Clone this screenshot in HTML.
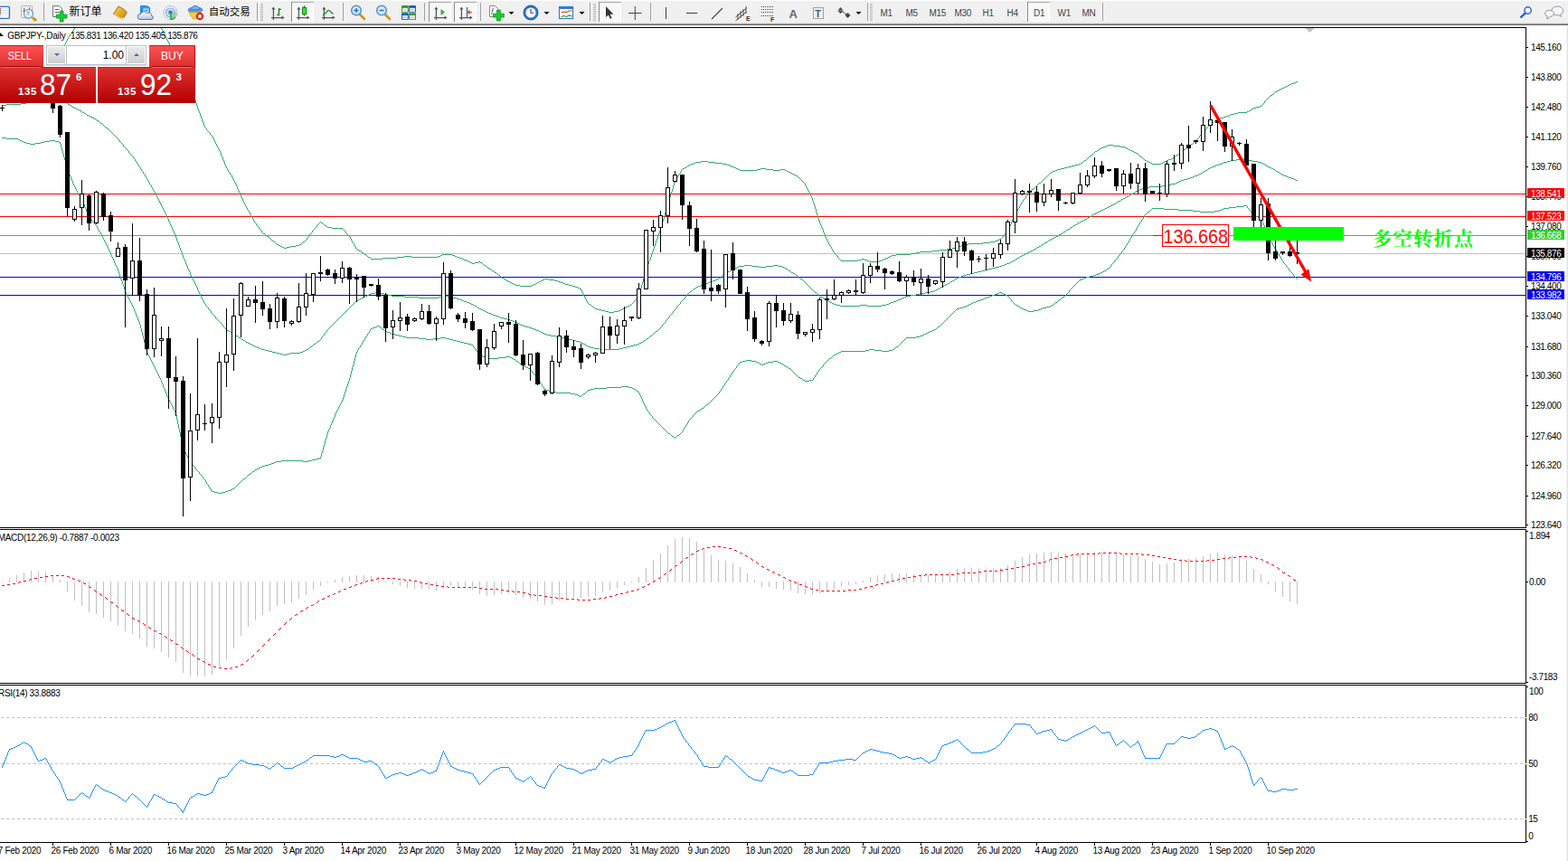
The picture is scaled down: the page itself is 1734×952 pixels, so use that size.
<!DOCTYPE html><html><head><meta charset="utf-8"><title>GBPJPY Daily</title><style>
html,body{margin:0;padding:0;background:#fff;}
body{width:1734px;height:952px;overflow:hidden;position:relative;font-family:"Liberation Sans",sans-serif;}
.tp{position:absolute;left:0;top:50px;width:216px;height:64px;background:#fff;}
.btn{position:absolute;top:0;height:24px;box-sizing:border-box;border-top:1px solid #c81a1a;border-right:1px solid #b80f0f;background:linear-gradient(#fa5252,#de2e2e);color:#fff;font-size:13px;text-align:center;line-height:21px;}
.btn span{display:inline-block;transform:scaleX(0.93);}
.sell span{transform:scaleX(0.82);position:relative;left:-2.2px}
.btn i{position:absolute;left:1px;right:3px;bottom:-1px;height:1px;background:#9c0808;border-bottom:1px solid #ee6a6a;z-index:3}
.sell{left:0;width:48.5px;}
.buy{left:165px;width:51px;}
.buy i{left:3px;right:3px}
.mid{position:absolute;left:48px;top:0;width:117px;height:24px;background:#fff;}
.spin{position:absolute;left:3px;top:0px;width:109px;height:20px;border:1px solid #b9bec6;background:#fff;box-shadow:0 1px 0 #d8d8d8}
.sb{position:absolute;top:1px;width:19px;height:18px;background:linear-gradient(#e9e9e9,#cfcfcf);}
.sb.l{left:1px}.sb.r{right:1px}
.dn{position:absolute;left:7px;top:7px;border-left:3px solid transparent;border-right:3px solid transparent;border-top:3px solid #4a63c8}
.upa{position:absolute;left:7px;top:7px;border-left:3px solid transparent;border-right:3px solid transparent;border-bottom:3px solid #4a63c8}
.vol{position:absolute;left:21px;right:21px;top:0;height:20px;line-height:20px;text-align:right;padding-right:2px;font-size:12px;color:#000;border-left:1px solid #b9bec6;border-right:1px solid #b9bec6;background:#fff}
.pr{position:absolute;top:24px;height:40px;box-sizing:border-box;border-top:1px solid #c81a1a;background:linear-gradient(#de3030,#b20000);color:#fff;}
.pl{left:0;width:106px}.prr{left:108px;width:108px}
.pr span{position:absolute;line-height:1}
.s1{font-size:11.5px;font-weight:bold;top:21.3px;letter-spacing:0.55px}
.big{font-size:33px;top:1.7px;transform:scaleX(0.955);transform-origin:0 0}
.sup{font-size:11.5px;font-weight:bold;top:4.6px}
.pl .s1{left:20px}.pl .big{left:44px}.pl .sup{left:84px}
.prr .s1{left:22px}.prr .big{left:46.5px}.prr .sup{left:86.5px}
</style></head><body><svg width="1734" height="952" viewBox="0 0 1734 952" style="position:absolute;left:0;top:0" shape-rendering="crispEdges"><rect x="0" y="28" width="1734" height="924" fill="#fff"/><rect x="0" y="30" width="1688" height="1" fill="#000"/><rect x="1687" y="30" width="1" height="554" fill="#000"/><rect x="1687" y="585" width="1" height="171" fill="#000"/><rect x="1687" y="757" width="1" height="175" fill="#000"/><rect x="0" y="583" width="1688" height="1" fill="#000"/><rect x="0" y="585" width="1688" height="1" fill="#000"/><rect x="0" y="755" width="1688" height="1" fill="#000"/><rect x="0" y="757" width="1688" height="1" fill="#000"/><rect x="0" y="931" width="1688" height="1" fill="#000"/><defs><clipPath id="cm"><rect x="0" y="31" width="1687" height="552"/></clipPath></defs><g clip-path="url(#cm)"><rect x="0" y="214" width="1687" height="1" fill="#ff0000"/><rect x="0" y="239" width="1687" height="1" fill="#ff0000"/><rect x="0" y="260" width="1687" height="1" fill="#32cd32"/><rect x="0" y="280" width="1687" height="1" fill="#c0c0c0"/><rect x="0" y="306" width="1687" height="1" fill="#0000ff"/><rect x="0" y="326" width="1687" height="1" fill="#0000ff"/><path d="M708,319v3h1v-3zM256,194v2h1v-2zM257,196v2h1v-2zM224,134v2h1v-2zM267,218v2h1v-2zM713,301v4h1v-4zM264,211v2h1v-2zM213,102v3h1v-3zM242,165v2h1v-2zM216,111v3h1v-3zM188,50v3h1v-3zM248,179v3h1v-3zM737,228v4h1v-4zM897,217v2h1v-2zM249,182v2h1v-2zM194,65v2h1v-2zM901,228v3h1v-3zM725,266v3h1v-3zM712,305v3h1v-3zM711,308v4h1v-4zM184,42v2h1v-2zM1128,226v2h1v-2zM382,256v2h1v-2zM719,284v3h1v-3zM1116,250v2h1v-2zM921,277v2h1v-2zM258,198v2h1v-2zM205,79v3h1v-3zM716,292v3h1v-3zM208,87v3h1v-3zM265,213v2h1v-2zM209,90v3h1v-3zM266,215v3h1v-3zM731,248v4h1v-4zM240,161v2h1v-2zM212,99v3h1v-3zM243,167v2h1v-2zM740,218v4h1v-4zM710,312v3h1v-3zM646,327v2h1v-2zM748,196v2h1v-2zM273,230v2h1v-2zM895,213v2h1v-2zM250,184v2h1v-2zM1127,228v2h1v-2zM896,215v2h1v-2zM728,258v3h1v-3zM193,63v2h1v-2zM1110,259v2h1v-2zM902,231v4h1v-4zM1123,235v2h1v-2zM232,147v2h1v-2zM722,275v3h1v-3zM236,153v2h1v-2zM739,222v3h1v-3zM182,38v2h1v-2zM388,264v2h1v-2zM283,247v2h1v-2zM218,117v3h1v-3zM727,261v3h1v-3zM203,73v3h1v-3zM726,264v2h1v-2zM339,263v2h1v-2zM204,76v3h1v-3zM734,238v4h1v-4zM1122,237v2h1v-2zM207,84v3h1v-3zM906,244v3h1v-3zM644,323v2h1v-2zM275,233v2h1v-2zM912,259v3h1v-3zM66,59v2h1v-2zM79,35v2h1v-2zM718,287v2h1v-2zM260,202v2h1v-2zM742,212v3h1v-3zM235,151v2h1v-2zM181,36v2h1v-2zM890,203v2h1v-2zM387,262v2h1v-2zM191,58v2h1v-2zM926,283v2h1v-2zM202,71v2h1v-2zM223,131v3h1v-3zM724,269v3h1v-3zM74,43v2h1v-2zM753,188v2h1v-2zM643,321v2h1v-2zM1115,252v2h1v-2zM745,202v3h1v-3zM736,232v3h1v-3zM715,295v3h1v-3zM259,200v2h1v-2zM262,206v3h1v-3zM73,45v2h1v-2zM269,222v2h1v-2zM69,53v2h1v-2zM244,169v3h1v-3zM189,53v2h1v-2zM286,251v2h1v-2zM190,55v3h1v-3zM251,186v2h1v-2zM899,222v3h1v-3zM1326,150v2h1v-2zM707,322v4h1v-4zM1119,243v2h1v-2zM920,275v2h1v-2zM210,93v3h1v-3zM1118,245v3h1v-3zM738,225v3h1v-3zM898,219v3h1v-3zM289,255v2h1v-2zM1137,213v2h1v-2zM220,123v2h1v-2zM904,238v3h1v-3zM741,215v3h1v-3zM907,247v2h1v-2zM1398,112v2h1v-2zM914,264v2h1v-2zM237,155v2h1v-2zM183,40v2h1v-2zM215,108v3h1v-3zM892,207v2h1v-2zM389,266v2h1v-2zM225,136v3h1v-3zM744,205v4h1v-4zM702,331v2h1v-2zM645,325v2h1v-2zM648,331v2h1v-2zM276,235v2h1v-2zM913,262v2h1v-2zM279,240v2h1v-2zM743,209v3h1v-3zM730,252v3h1v-3zM891,205v2h1v-2zM214,105v3h1v-3zM246,174v3h1v-3zM192,60v3h1v-3zM391,269v2h1v-2zM717,289v3h1v-3zM1114,254v2h1v-2zM647,329v2h1v-2zM721,278v3h1v-3zM277,237v2h1v-2zM733,242v3h1v-3zM179,32v2h1v-2zM68,55v2h1v-2zM706,326v2h1v-2zM261,204v2h1v-2zM268,220v2h1v-2zM752,190v2h1v-2zM909,252v2h1v-2zM1131,221v2h1v-2zM916,268v2h1v-2zM735,235v3h1v-3zM1117,248v2h1v-2zM185,44v2h1v-2zM217,114v3h1v-3zM709,315v4h1v-4zM747,198v2h1v-2zM908,249v3h1v-3zM915,266v2h1v-2zM1124,233v2h1v-2zM187,48v2h1v-2zM720,281v3h1v-3zM893,209v2h1v-2zM393,273v2h1v-2zM219,120v3h1v-3zM903,235v3h1v-3zM649,333v2h1v-2zM723,272v3h1v-3zM239,159v2h1v-2zM211,96v3h1v-3zM392,271v2h1v-2zM75,41v2h1v-2zM714,298v3h1v-3zM71,49v2h1v-2zM750,193v2h1v-2zM729,255v3h1v-3zM1129,224v2h1v-2zM281,244v2h1v-2zM342,259v2h1v-2zM746,200v2h1v-2zM1125,231v2h1v-2zM263,209v2h1v-2zM206,82v2h1v-2zM1121,239v2h1v-2zM238,157v2h1v-2zM70,51v2h1v-2zM270,224v2h1v-2zM911,257v2h1v-2zM345,255v2h1v-2zM245,172v2h1v-2zM900,225v3h1v-3zM252,188v2h1v-2zM732,245v3h1v-3zM1120,241v2h1v-2zM180,34v2h1v-2zM280,242v2h1v-2zM81,32v2h1v-2zM77,38v2h1v-2zM222,128v3h1v-3zM226,139v2h1v-2zM642,319v2h1v-2zM272,228v2h1v-2zM910,254v3h1v-3zM917,270v2h1v-2zM254,191v2h1v-2zM1134,217v2h1v-2zM72,47v2h1v-2zM186,46v2h1v-2zM221,125v3h1v-3zM228,142v2h1v-2zM905,241v3h1v-3zM67,57v2h1v-2zM919,273v2h1v-2zM241,163v2h1v-2zM894,211v2h1v-2zM247,177v2h1v-2zM1334,141v2h1v-2zM350,249v2h1v-2zM271,226v2h1v-2zM409,285h1v1h-1zM423,285h16v1h-16zM508,285h3v1h-3zM927,285h1v1h-1zM980,285h2v1h-2zM818,188h19v1h-19zM855,188h8v1h-8zM868,188h2v1h-2zM1167,188h2v1h-2zM516,288h2v1h-2zM930,288h19v1h-19zM959,288h2v1h-2zM972,288h3v1h-3zM1333,143h1v1h-1zM1356,128h3v1h-3zM764,181h3v1h-3zM799,181h5v1h-5zM1193,181h2v1h-2zM1274,181h10v1h-10zM407,284h2v1h-2zM439,284h8v1h-8zM455,284h29v1h-29zM505,284h3v1h-3zM982,284h2v1h-2zM300,265h1v1h-1zM338,265h1v1h-1zM1103,265h2v1h-2zM406,283h1v1h-1zM447,283h8v1h-8zM484,283h3v1h-3zM503,283h2v1h-2zM984,283h2v1h-2zM348,252h1v1h-1zM367,252h12v1h-12zM402,280h1v1h-1zM923,280h1v1h-1zM1007,280h6v1h-6zM559,309h1v1h-1zM600,309h2v1h-2zM607,309h6v1h-6zM1405,105h2v1h-2zM1211,167h2v1h-2zM1252,167h2v1h-2zM1306,167h1v1h-1zM538,295h1v1h-1zM557,308h2v1h-2zM602,308h5v1h-5zM49,61h14v1h-14zM1215,165h1v1h-1zM1248,165h2v1h-2zM1309,165h2v1h-2zM1383,121h1v1h-1zM1207,171h1v1h-1zM1259,171h1v1h-1zM1301,171h2v1h-2zM1205,172h2v1h-2zM1260,172h1v1h-1zM1300,172h1v1h-1zM564,312h2v1h-2zM594,312h2v1h-2zM620,312h3v1h-3zM9,77h10v1h-10zM1369,124h10v1h-10zM700,334h1v1h-1zM570,315h5v1h-5zM588,315h2v1h-2zM629,315h4v1h-4zM575,316h13v1h-13zM633,316h3v1h-3zM314,274h3v1h-3zM1053,274h4v1h-4zM653,337h1v1h-1zM696,337h2v1h-2zM405,282h1v1h-1zM487,282h2v1h-2zM500,282h3v1h-3zM925,282h1v1h-1zM986,282h5v1h-5zM1359,127h2v1h-2zM31,67h2v1h-2zM195,67h2v1h-2zM304,268h1v1h-1zM334,268h1v1h-1zM390,268h1v1h-1zM1087,268h8v1h-8zM288,254h1v1h-1zM346,254h1v1h-1zM380,254h1v1h-1zM1414,99h2v1h-2zM769,179h6v1h-6zM783,179h8v1h-8zM1197,179h1v1h-1zM1270,179h2v1h-2zM1286,179h2v1h-2zM1216,164h2v1h-2zM1246,164h2v1h-2zM1311,164h1v1h-1zM1433,90h2v1h-2zM551,304h2v1h-2zM1346,131h3v1h-3zM534,292h1v1h-1zM553,305h1v1h-1zM1210,168h1v1h-1zM1254,168h2v1h-2zM1305,168h1v1h-1zM1209,169h1v1h-1zM1256,169h2v1h-2zM1304,169h1v1h-1zM231,146h1v1h-1zM1330,146h1v1h-1zM754,187h1v1h-1zM816,187h2v1h-2zM837,187h4v1h-4zM847,187h8v1h-8zM863,187h5v1h-5zM1169,187h4v1h-4zM759,184h1v1h-1zM809,184h3v1h-3zM1181,184h4v1h-4zM885,198h1v1h-1zM1154,198h1v1h-1zM399,278h1v1h-1zM1017,278h14v1h-14zM1202,175h1v1h-1zM1264,175h1v1h-1zM1295,175h2v1h-2zM775,178h8v1h-8zM1198,178h1v1h-1zM1268,178h2v1h-2zM1288,178h2v1h-2zM547,301h2v1h-2zM520,290h2v1h-2zM525,290h4v1h-4zM531,290h2v1h-2zM767,180h2v1h-2zM791,180h8v1h-8zM1195,180h2v1h-2zM1272,180h2v1h-2zM1284,180h2v1h-2zM1401,109h1v1h-1zM1320,157h1v1h-1zM37,64h4v1h-4zM310,272h2v1h-2zM321,272h6v1h-6zM918,272h1v1h-1zM1060,272h3v1h-3zM1146,205h1v1h-1zM749,195h1v1h-1zM882,195h1v1h-1zM1157,195h1v1h-1zM1223,161h2v1h-2zM1231,161h8v1h-8zM1315,161h1v1h-1zM874,191h2v1h-2zM1161,191h1v1h-1zM410,286h13v1h-13zM511,286h2v1h-2zM928,286h1v1h-1zM953,286h3v1h-3zM977,286h3v1h-3zM1143,208h1v1h-1zM562,311h2v1h-2zM596,311h2v1h-2zM617,311h3v1h-3zM661,342h4v1h-4zM686,342h2v1h-2zM760,183h2v1h-2zM807,183h2v1h-2zM1185,183h4v1h-4zM305,269h1v1h-1zM333,269h1v1h-1zM1071,269h16v1h-16zM255,193h1v1h-1zM878,193h2v1h-2zM1159,193h1v1h-1zM306,270h2v1h-2zM331,270h2v1h-2zM1065,270h6v1h-6zM1399,111h1v1h-1zM1204,173h1v1h-1zM1261,173h2v1h-2zM1299,173h1v1h-1zM1426,93h2v1h-2zM403,281h2v1h-2zM489,281h11v1h-11zM924,281h1v1h-1zM991,281h16v1h-16zM673,345h6v1h-6zM233,149h1v1h-1zM1327,149h1v1h-1zM1208,170h1v1h-1zM1258,170h1v1h-1zM1303,170h1v1h-1zM1422,95h2v1h-2zM312,273h2v1h-2zM317,273h4v1h-4zM1057,273h3v1h-3zM751,192h1v1h-1zM876,192h2v1h-2zM1160,192h1v1h-1zM888,201h1v1h-1zM1151,201h1v1h-1zM291,258h2v1h-2zM343,258h1v1h-1zM383,258h1v1h-1zM1111,258h1v1h-1zM63,60h3v1h-3zM762,182h2v1h-2zM804,182h3v1h-3zM1189,182h4v1h-4zM27,70h2v1h-2zM200,70h2v1h-2zM394,275h1v1h-1zM1047,275h6v1h-6zM395,276h2v1h-2zM1039,276h8v1h-8zM1379,123h2v1h-2zM655,339h2v1h-2zM692,339h2v1h-2zM870,189h2v1h-2zM1164,189h3v1h-3zM1213,166h2v1h-2zM1250,166h2v1h-2zM1307,166h2v1h-2zM704,329h1v1h-1zM1199,177h2v1h-2zM1266,177h2v1h-2zM1290,177h2v1h-2zM299,264h1v1h-1zM1105,264h2v1h-2zM1138,212h1v1h-1zM513,287h3v1h-3zM929,287h1v1h-1zM949,287h4v1h-4zM956,287h3v1h-3zM975,287h2v1h-2zM301,266h2v1h-2zM337,266h1v1h-1zM1100,266h3v1h-3zM757,185h2v1h-2zM812,185h2v1h-2zM1177,185h4v1h-4zM1416,98h2v1h-2zM295,261h2v1h-2zM341,261h1v1h-1zM386,261h1v1h-1zM1109,261h1v1h-1zM568,314h2v1h-2zM590,314h2v1h-2zM625,314h4v1h-4zM1412,100h2v1h-2zM755,186h2v1h-2zM814,186h2v1h-2zM841,186h6v1h-6zM1173,186h4v1h-4zM1389,118h4v1h-4zM78,37h1v1h-1zM285,250h1v1h-1zM361,250h1v1h-1zM1431,91h2v1h-2zM541,297h2v1h-2zM669,344h4v1h-4zM679,344h5v1h-5zM1203,174h1v1h-1zM1263,174h1v1h-1zM1297,174h2v1h-2zM1201,176h1v1h-1zM1265,176h1v1h-1zM1292,176h3v1h-3zM1393,117h2v1h-2zM1225,160h6v1h-6zM1316,160h1v1h-1zM30,68h1v1h-1zM197,68h2v1h-2zM555,307h2v1h-2zM397,277h2v1h-2zM1031,277h8v1h-8zM1400,110h1v1h-1zM1319,158h1v1h-1zM518,289h2v1h-2zM529,289h2v1h-2zM961,289h11v1h-11zM1339,136h2v1h-2zM5,78h4v1h-4zM290,257h1v1h-1zM344,257h1v1h-1zM1112,257h1v1h-1zM287,253h1v1h-1zM347,253h1v1h-1zM379,253h1v1h-1zM230,145h1v1h-1zM1331,145h1v1h-1zM880,194h2v1h-2zM1158,194h1v1h-1zM1404,106h1v1h-1zM566,313h2v1h-2zM592,313h2v1h-2zM623,313h2v1h-2zM1365,125h4v1h-4zM665,343h4v1h-4zM684,343h2v1h-2zM884,197h1v1h-1zM1155,197h1v1h-1zM29,69h1v1h-1zM199,69h1v1h-1zM1345,132h1v1h-1zM253,190h1v1h-1zM872,190h2v1h-2zM1162,190h2v1h-2zM1386,119h3v1h-3zM522,291h3v1h-3zM533,291h1v1h-1zM1220,162h3v1h-3zM1239,162h5v1h-5zM1314,162h1v1h-1zM636,317h3v1h-3zM886,199h1v1h-1zM1153,199h1v1h-1zM34,65h3v1h-3zM887,200h1v1h-1zM1152,200h1v1h-1zM1218,163h2v1h-2zM1244,163h2v1h-2zM1312,163h2v1h-2zM1144,207h1v1h-1zM658,341h3v1h-3zM688,341h2v1h-2zM400,279h2v1h-2zM922,279h1v1h-1zM1013,279h4v1h-4zM284,249h1v1h-1zM359,249h2v1h-2zM1381,122h2v1h-2zM22,74h1v1h-1zM1338,137h1v1h-1zM1335,140h1v1h-1zM282,246h1v1h-1zM353,246h1v1h-1zM355,246h2v1h-2zM303,267h1v1h-1zM335,267h2v1h-2zM1095,267h5v1h-5zM1428,92h3v1h-3zM1133,219h1v1h-1zM41,63h4v1h-4zM701,333h1v1h-1zM308,271h2v1h-2zM327,271h4v1h-4zM1063,271h2v1h-2zM82,31h1v1h-1zM178,31h1v1h-1zM1145,206h1v1h-1zM297,262h1v1h-1zM340,262h1v1h-1zM1108,262h1v1h-1zM349,251h1v1h-1zM362,251h5v1h-5zM1136,215h1v1h-1zM2,79h3v1h-3zM1317,159h2v1h-2zM229,144h1v1h-1zM1332,144h1v1h-1zM1324,153h1v1h-1zM19,76h2v1h-2zM883,196h1v1h-1zM1156,196h1v1h-1zM889,202h1v1h-1zM1149,202h2v1h-2zM1397,114h1v1h-1zM298,263h1v1h-1zM1107,263h1v1h-1zM1353,129h3v1h-3zM1343,133h2v1h-2zM654,338h1v1h-1zM694,338h2v1h-2zM1410,101h2v1h-2zM560,310h2v1h-2zM598,310h2v1h-2zM613,310h4v1h-4zM293,259h1v1h-1zM384,259h1v1h-1zM294,260h1v1h-1zM385,260h1v1h-1zM25,72h1v1h-1zM1361,126h4v1h-4zM33,66h1v1h-1zM352,247h1v1h-1zM357,247h1v1h-1zM351,248h1v1h-1zM358,248h1v1h-1zM539,296h2v1h-2zM705,328h1v1h-1zM45,62h4v1h-4zM1418,97h2v1h-2zM1113,256h1v1h-1zM354,245h1v1h-1zM1325,152h1v1h-1zM1336,139h1v1h-1zM1328,148h1v1h-1zM1323,154h1v1h-1zM657,340h1v1h-1zM690,340h2v1h-2zM26,71h1v1h-1zM1342,134h1v1h-1zM641,319h1v1h-1zM1130,223h1v1h-1zM1126,230h1v1h-1zM1141,209h2v1h-2zM1403,107h1v1h-1zM1420,96h2v1h-2zM1148,203h1v1h-1zM651,336h2v1h-2zM698,336h1v1h-1zM1337,138h1v1h-1zM1395,116h1v1h-1zM278,239h1v1h-1zM1329,147h1v1h-1zM1341,135h1v1h-1zM1409,102h1v1h-1zM23,73h2v1h-2zM537,294h1v1h-1zM1140,210h1v1h-1zM1135,216h1v1h-1zM381,255h1v1h-1zM80,34h1v1h-1zM1349,130h4v1h-4zM1396,115h1v1h-1zM543,298h1v1h-1zM227,141h1v1h-1zM1402,108h1v1h-1zM639,318h2v1h-2zM1424,94h2v1h-2zM1384,120h2v1h-2zM544,299h2v1h-2zM650,335h1v1h-1zM699,335h1v1h-1zM76,40h1v1h-1zM1139,211h1v1h-1zM535,293h2v1h-2zM554,306h1v1h-1zM1322,155h1v1h-1zM549,302h1v1h-1zM1407,104h1v1h-1zM550,303h1v1h-1zM21,75h1v1h-1zM274,232h1v1h-1zM546,300h1v1h-1zM234,150h1v1h-1zM703,330h1v1h-1zM1132,220h1v1h-1zM1147,204h1v1h-1zM1408,103h1v1h-1zM1321,156h1v1h-1z" fill="#2eaa6a"/><path d="M155,185v2h1v-2zM158,190v2h1v-2zM175,220v2h1v-2zM183,236v2h1v-2zM221,325v2h1v-2zM224,331v2h1v-2zM164,200v2h1v-2zM203,285v2h1v-2zM142,167v2h1v-2zM207,294v3h1v-3zM210,301v3h1v-3zM740,349v2h1v-2zM355,373v2h1v-2zM732,359v2h1v-2zM748,339v2h1v-2zM184,238v2h1v-2zM181,232v2h1v-2zM191,254v2h1v-2zM192,256v2h1v-2zM198,271v3h1v-3zM202,282v3h1v-3zM177,224v2h1v-2zM208,297v2h1v-2zM209,299v2h1v-2zM216,314v2h1v-2zM233,344v2h1v-2zM136,160v2h1v-2zM190,251v3h1v-3zM197,268v3h1v-3zM176,222v2h1v-2zM179,228v2h1v-2zM217,316v2h1v-2zM214,310v2h1v-2zM361,365v2h1v-2zM225,333v2h1v-2zM744,344v2h1v-2zM156,187v2h1v-2zM736,354v2h1v-2zM174,218v2h1v-2zM246,359v2h1v-2zM223,329v2h1v-2zM227,336v2h1v-2zM238,350v2h1v-2zM205,289v3h1v-3zM168,207v2h1v-2zM204,287v2h1v-2zM160,193v2h1v-2zM185,240v2h1v-2zM167,205v2h1v-2zM180,230v2h1v-2zM758,327v2h1v-2zM147,173v2h1v-2zM218,318v3h1v-3zM178,226v2h1v-2zM149,176v2h1v-2zM199,274v3h1v-3zM213,308v2h1v-2zM752,334v2h1v-2zM187,245v2h1v-2zM194,260v3h1v-3zM358,369v2h1v-2zM169,209v2h1v-2zM172,214v2h1v-2zM230,340v2h1v-2zM132,155v2h1v-2zM211,304v2h1v-2zM161,195v2h1v-2zM186,242v3h1v-3zM193,258v2h1v-2zM171,212v2h1v-2zM163,198v2h1v-2zM220,323v2h1v-2zM201,279v3h1v-3zM189,249v2h1v-2zM153,182v2h1v-2zM196,266v2h1v-2zM200,277v2h1v-2zM206,292v2h1v-2zM188,247v2h1v-2zM151,179v2h1v-2zM195,263v3h1v-3zM173,216v2h1v-2zM212,306v2h1v-2zM165,202v2h1v-2zM219,321v2h1v-2zM222,327v2h1v-2zM182,234v2h1v-2zM215,312v2h1v-2zM41,110h6v1h-6zM67,110h2v1h-2zM1220,231h2v1h-2zM1138,278h2v1h-2zM398,330h2v1h-2zM505,330h3v1h-3zM756,330h1v1h-1zM911,330h1v1h-1zM996,330h2v1h-2zM284,384h3v1h-3zM342,384h1v1h-1zM653,384h4v1h-4zM689,384h4v1h-4zM1361,177h6v1h-6zM1381,177h4v1h-4zM228,338h1v1h-1zM388,338h1v1h-1zM525,338h2v1h-2zM749,338h1v1h-1zM929,338h22v1h-22zM959,338h16v1h-16zM396,331h2v1h-2zM508,331h3v1h-3zM755,331h1v1h-1zM912,331h2v1h-2zM993,331h3v1h-3zM1216,233h2v1h-2zM162,197h1v1h-1zM1313,197h3v1h-3zM1428,197h3v1h-3zM154,184h1v1h-1zM1340,184h3v1h-3zM1402,184h2v1h-2zM29,113h4v1h-4zM72,113h2v1h-2zM1309,198h4v1h-4zM1431,198h2v1h-2zM376,350h1v1h-1zM551,350h2v1h-2zM1181,253h2v1h-2zM287,385h2v1h-2zM341,385h1v1h-1zM657,385h6v1h-6zM685,385h4v1h-4zM389,337h1v1h-1zM523,337h2v1h-2zM750,337h1v1h-1zM925,337h4v1h-4zM951,337h8v1h-8zM975,337h5v1h-5zM1353,179h4v1h-4zM1391,179h4v1h-4zM7,115h16v1h-16zM75,115h2v1h-2zM55,108h8v1h-8zM817,294h6v1h-6zM831,294h8v1h-8zM847,294h8v1h-8zM861,294h4v1h-4zM1105,294h3v1h-3zM1324,193h2v1h-2zM1418,193h2v1h-2zM289,386h4v1h-4zM339,386h2v1h-2zM663,386h22v1h-22zM766,320h1v1h-1zM898,320h1v1h-1zM1035,320h2v1h-2zM1200,242h2v1h-2zM150,178h1v1h-1zM1357,178h4v1h-4zM1385,178h6v1h-6zM797,306h1v1h-1zM883,306h1v1h-1zM1060,306h3v1h-3zM400,329h2v1h-2zM463,329h22v1h-22zM501,329h4v1h-4zM757,329h1v1h-1zM909,329h2v1h-2zM998,329h2v1h-2zM795,307h2v1h-2zM884,307h1v1h-1zM1058,307h2v1h-2zM256,368h2v1h-2zM359,368h1v1h-1zM600,368h2v1h-2zM723,368h1v1h-1zM280,382h2v1h-2zM345,382h1v1h-1zM648,382h2v1h-2zM697,382h4v1h-4zM1343,183h2v1h-2zM1400,183h2v1h-2zM791,309h2v1h-2zM887,309h1v1h-1zM1055,309h1v1h-1zM113,137h1v1h-1zM251,365h2v1h-2zM593,365h3v1h-3zM727,365h1v1h-1zM1166,262h2v1h-2zM313,392h4v1h-4zM272,378h2v1h-2zM350,378h1v1h-1zM641,378h2v1h-2zM709,378h2v1h-2zM823,293h8v1h-8zM855,293h6v1h-6zM1108,293h3v1h-3zM402,328h2v1h-2zM447,328h16v1h-16zM485,328h4v1h-4zM495,328h6v1h-6zM907,328h2v1h-2zM1000,328h2v1h-2zM1130,282h2v1h-2zM375,351h1v1h-1zM553,351h4v1h-4zM739,351h1v1h-1zM767,319h2v1h-2zM897,319h1v1h-1zM1037,319h2v1h-2zM1127,284h1v1h-1zM765,321h1v1h-1zM899,321h1v1h-1zM1033,321h2v1h-2zM802,302h1v1h-1zM877,302h2v1h-2zM1073,302h4v1h-4zM1149,272h2v1h-2zM305,390h4v1h-4zM321,390h11v1h-11zM801,303h1v1h-1zM879,303h1v1h-1zM1069,303h4v1h-4zM1367,176h14v1h-14zM107,133h2v1h-2zM1146,274h1v1h-1zM245,358h1v1h-1zM368,358h1v1h-1zM574,358h2v1h-2zM733,358h1v1h-1zM2,116h5v1h-5zM77,116h2v1h-2zM109,134h1v1h-1zM253,366h2v1h-2zM596,366h2v1h-2zM725,366h2v1h-2zM120,143h1v1h-1zM1246,217h2v1h-2zM1192,246h2v1h-2zM100,129h2v1h-2zM410,324h5v1h-5zM421,324h4v1h-4zM761,324h1v1h-1zM903,324h1v1h-1zM1017,324h6v1h-6zM367,359h1v1h-1zM576,359h2v1h-2zM777,314h3v1h-3zM892,314h1v1h-1zM1046,314h2v1h-2zM301,389h4v1h-4zM332,389h3v1h-3zM1316,196h3v1h-3zM1425,196h3v1h-3zM1128,283h2v1h-2zM240,353h1v1h-1zM373,353h1v1h-1zM561,353h3v1h-3zM737,353h1v1h-1zM798,305h1v1h-1zM882,305h1v1h-1zM1063,305h2v1h-2zM812,296h3v1h-3zM867,296h2v1h-2zM1097,296h4v1h-4zM390,336h1v1h-1zM521,336h2v1h-2zM751,336h1v1h-1zM922,336h3v1h-3zM980,336h3v1h-3zM1176,256h2v1h-2zM231,342h1v1h-1zM384,342h1v1h-1zM532,342h2v1h-2zM746,342h1v1h-1zM815,295h2v1h-2zM839,295h8v1h-8zM865,295h2v1h-2zM1101,295h4v1h-4zM241,354h1v1h-1zM372,354h1v1h-1zM564,354h3v1h-3zM807,299h1v1h-1zM872,299h2v1h-2zM1085,299h4v1h-4zM234,346h1v1h-1zM380,346h1v1h-1zM540,346h3v1h-3zM743,346h1v1h-1zM115,139h1v1h-1zM104,131h2v1h-2zM1336,186h2v1h-2zM1406,186h2v1h-2zM775,315h2v1h-2zM893,315h1v1h-1zM1044,315h2v1h-2zM366,360h1v1h-1zM578,360h3v1h-3zM88,122h2v1h-2zM1302,201h2v1h-2zM1333,188h2v1h-2zM1410,188h1v1h-1zM1155,268h2v1h-2zM293,387h4v1h-4zM337,387h2v1h-2zM235,347h1v1h-1zM379,347h1v1h-1zM543,347h2v1h-2zM742,347h1v1h-1zM166,204h1v1h-1zM1289,204h6v1h-6zM170,211h1v1h-1zM1256,211h2v1h-2zM237,349h1v1h-1zM377,349h1v1h-1zM548,349h3v1h-3zM278,381h2v1h-2zM346,381h1v1h-1zM647,381h1v1h-1zM701,381h4v1h-4zM261,371h2v1h-2zM357,371h1v1h-1zM609,371h6v1h-6zM719,371h2v1h-2zM1198,243h2v1h-2zM242,355h1v1h-1zM371,355h1v1h-1zM567,355h2v1h-2zM393,333h1v1h-1zM513,333h3v1h-3zM753,333h1v1h-1zM916,333h2v1h-2zM988,333h3v1h-3zM255,367h1v1h-1zM360,367h1v1h-1zM598,367h2v1h-2zM724,367h1v1h-1zM249,363h1v1h-1zM363,363h1v1h-1zM588,363h3v1h-3zM729,363h1v1h-1zM111,136h2v1h-2zM250,364h1v1h-1zM362,364h1v1h-1zM591,364h2v1h-2zM728,364h1v1h-1zM309,391h4v1h-4zM317,391h4v1h-4zM386,340h1v1h-1zM528,340h2v1h-2zM271,377h1v1h-1zM351,377h2v1h-2zM637,377h4v1h-4zM711,377h1v1h-1zM1235,223h2v1h-2zM1183,252h1v1h-1zM47,109h8v1h-8zM63,109h4v1h-4zM788,310h3v1h-3zM888,310h1v1h-1zM1053,310h2v1h-2zM106,132h1v1h-1zM785,311h3v1h-3zM889,311h1v1h-1zM1051,311h2v1h-2zM276,380h2v1h-2zM347,380h2v1h-2zM645,380h2v1h-2zM705,380h2v1h-2zM263,372h1v1h-1zM356,372h1v1h-1zM615,372h6v1h-6zM718,372h1v1h-1zM406,326h2v1h-2zM429,326h4v1h-4zM759,326h1v1h-1zM905,326h1v1h-1zM1007,326h6v1h-6zM1321,194h3v1h-3zM1420,194h3v1h-3zM1228,227h2v1h-2zM226,335h1v1h-1zM391,335h1v1h-1zM519,335h2v1h-2zM920,335h2v1h-2zM983,335h2v1h-2zM243,356h1v1h-1zM370,356h1v1h-1zM569,356h3v1h-3zM735,356h1v1h-1zM1224,229h2v1h-2zM244,357h1v1h-1zM369,357h1v1h-1zM572,357h2v1h-2zM734,357h1v1h-1zM274,379h2v1h-2zM349,379h1v1h-1zM643,379h2v1h-2zM707,379h2v1h-2zM93,125h2v1h-2zM146,172h1v1h-1zM1242,219h2v1h-2zM1189,248h2v1h-2zM1207,238h1v1h-1zM269,376h2v1h-2zM353,376h1v1h-1zM633,376h4v1h-4zM712,376h2v1h-2zM1265,207h6v1h-6zM157,189h1v1h-1zM1331,189h2v1h-2zM1411,189h2v1h-2zM1260,209h3v1h-3zM404,327h2v1h-2zM433,327h14v1h-14zM489,327h6v1h-6zM906,327h1v1h-1zM1002,327h5v1h-5zM381,345h1v1h-1zM538,345h2v1h-2zM799,304h2v1h-2zM880,304h2v1h-2zM1065,304h4v1h-4zM1226,228h2v1h-2zM793,308h2v1h-2zM885,308h2v1h-2zM1056,308h2v1h-2zM1173,258h2v1h-2zM1271,206h14v1h-14zM37,111h4v1h-4zM69,111h2v1h-2zM1191,247h1v1h-1zM138,163h1v1h-1zM23,114h6v1h-6zM74,114h1v1h-1zM1152,270h2v1h-2zM152,181h1v1h-1zM1348,181h3v1h-3zM1397,181h2v1h-2zM1253,213h2v1h-2zM1118,289h2v1h-2zM1218,232h2v1h-2zM1136,279h2v1h-2zM282,383h2v1h-2zM343,383h2v1h-2zM650,383h3v1h-3zM693,383h4v1h-4zM1214,234h2v1h-2zM805,300h2v1h-2zM874,300h1v1h-1zM1081,300h4v1h-4zM1237,222h2v1h-2zM236,348h1v1h-1zM378,348h1v1h-1zM545,348h3v1h-3zM741,348h1v1h-1zM392,334h1v1h-1zM516,334h3v1h-3zM918,334h2v1h-2zM985,334h3v1h-3zM1120,288h2v1h-2zM98,128h2v1h-2zM117,141h2v1h-2zM247,361h1v1h-1zM365,361h1v1h-1zM581,361h4v1h-4zM731,361h1v1h-1zM140,165h1v1h-1zM385,341h1v1h-1zM530,341h2v1h-2zM747,341h1v1h-1zM141,166h1v1h-1zM1319,195h2v1h-2zM1423,195h2v1h-2zM159,192h1v1h-1zM1326,192h2v1h-2zM1416,192h2v1h-2zM382,344h1v1h-1zM536,344h2v1h-2zM1147,273h2v1h-2zM770,317h2v1h-2zM895,317h1v1h-1zM1040,317h2v1h-2zM248,362h1v1h-1zM364,362h1v1h-1zM585,362h3v1h-3zM730,362h1v1h-1zM125,148h1v1h-1zM415,323h6v1h-6zM762,323h1v1h-1zM901,323h2v1h-2zM1023,323h6v1h-6zM114,138h1v1h-1zM86,121h2v1h-2zM1111,292h2v1h-2zM1306,199h3v1h-3zM1433,199h2v1h-2zM1208,237h2v1h-2zM394,332h2v1h-2zM511,332h2v1h-2zM754,332h1v1h-1zM914,332h2v1h-2zM991,332h2v1h-2zM810,297h2v1h-2zM869,297h2v1h-2zM1093,297h4v1h-4zM229,339h1v1h-1zM387,339h1v1h-1zM527,339h1v1h-1zM239,352h1v1h-1zM374,352h1v1h-1zM557,352h4v1h-4zM738,352h1v1h-1zM267,375h2v1h-2zM354,375h1v1h-1zM629,375h4v1h-4zM714,375h1v1h-1zM1187,249h2v1h-2zM772,316h3v1h-3zM894,316h1v1h-1zM1042,316h2v1h-2zM1300,202h2v1h-2zM1154,269h1v1h-1zM1285,205h4v1h-4zM1171,259h2v1h-2zM803,301h2v1h-2zM875,301h2v1h-2zM1077,301h4v1h-4zM258,369h1v1h-1zM602,369h3v1h-3zM722,369h1v1h-1zM1113,291h3v1h-3zM127,150h1v1h-1zM96,127h2v1h-2zM1330,190h1v1h-1zM1413,190h2v1h-2zM1234,224h1v1h-1zM1251,214h2v1h-2zM1116,290h2v1h-2zM91,124h2v1h-2zM408,325h2v1h-2zM425,325h4v1h-4zM760,325h1v1h-1zM904,325h1v1h-1zM1013,325h4v1h-4zM144,170h1v1h-1zM1164,263h2v1h-2zM84,120h2v1h-2zM145,171h1v1h-1zM1160,265h2v1h-2zM1335,187h1v1h-1zM1408,187h2v1h-2zM763,322h2v1h-2zM900,322h1v1h-1zM1029,322h4v1h-4zM1144,275h2v1h-2zM1244,218h2v1h-2zM1162,264h2v1h-2zM1263,208h2v1h-2zM1258,210h2v1h-2zM1205,239h2v1h-2zM259,370h2v1h-2zM605,370h4v1h-4zM721,370h1v1h-1zM780,313h3v1h-3zM891,313h1v1h-1zM1048,313h2v1h-2zM121,144h1v1h-1zM102,130h2v1h-2zM297,388h4v1h-4zM335,388h2v1h-2zM266,374h1v1h-1zM625,374h4v1h-4zM715,374h2v1h-2zM769,318h1v1h-1zM896,318h1v1h-1zM1039,318h1v1h-1zM1351,180h2v1h-2zM1395,180h2v1h-2zM1168,261h2v1h-2zM116,140h1v1h-1zM90,123h1v1h-1zM82,119h2v1h-2zM1134,280h2v1h-2zM1328,191h2v1h-2zM1415,191h1v1h-1zM232,343h1v1h-1zM383,343h1v1h-1zM534,343h2v1h-2zM745,343h1v1h-1zM1230,226h2v1h-2zM123,146h1v1h-1zM1338,185h2v1h-2zM1404,185h2v1h-2zM79,117h1v1h-1zM1232,225h2v1h-2zM1179,254h2v1h-2zM808,298h2v1h-2zM871,298h1v1h-1zM1089,298h4v1h-4zM130,153h1v1h-1zM1123,286h2v1h-2zM1142,276h2v1h-2zM95,126h1v1h-1zM80,118h2v1h-2zM1295,203h5v1h-5zM1170,260h1v1h-1zM143,169h1v1h-1zM1345,182h3v1h-3zM1399,182h1v1h-1zM1178,255h1v1h-1zM264,373h2v1h-2zM621,373h4v1h-4zM717,373h1v1h-1zM1250,215h1v1h-1zM1196,244h2v1h-2zM783,312h2v1h-2zM890,312h1v1h-1zM1050,312h1v1h-1zM33,112h4v1h-4zM71,112h1v1h-1zM119,142h1v1h-1zM134,158h1v1h-1zM1125,285h2v1h-2zM1186,250h1v1h-1zM110,135h1v1h-1zM122,145h1v1h-1zM128,151h1v1h-1zM129,152h1v1h-1zM1239,221h1v1h-1zM1203,240h2v1h-2zM1122,287h1v1h-1zM1222,230h2v1h-2zM1140,277h2v1h-2zM131,154h1v1h-1zM1240,220h2v1h-2zM1132,281h2v1h-2zM1210,236h2v1h-2zM1151,271h1v1h-1zM133,157h1v1h-1zM1212,235h2v1h-2zM124,147h1v1h-1zM1304,200h2v1h-2zM1157,267h2v1h-2zM135,159h1v1h-1zM1184,251h2v1h-2zM126,149h1v1h-1zM1248,216h2v1h-2zM1194,245h2v1h-2zM137,162h1v1h-1zM1175,257h1v1h-1zM1255,212h1v1h-1zM139,164h1v1h-1zM148,175h1v1h-1zM1159,266h1v1h-1zM1202,241h1v1h-1z" fill="#2eaa6a"/><path d="M177,418v2h1v-2zM1417,286v2h1v-2zM132,303v3h1v-3zM387,414v4h1v-4zM178,420v3h1v-3zM199,478v5h1v-5zM184,435v3h1v-3zM362,477v3h1v-3zM1398,249v3h1v-3zM595,419v2h1v-2zM712,446v2h1v-2zM599,425v2h1v-2zM163,390v2h1v-2zM713,448v2h1v-2zM88,216v2h1v-2zM146,337v2h1v-2zM192,452v2h1v-2zM766,459v2h1v-2zM370,458v3h1v-3zM1405,265v2h1v-2zM195,459v5h1v-5zM761,465v2h1v-2zM227,531v2h1v-2zM95,231v3h1v-3zM357,494v4h1v-4zM156,363v4h1v-4zM74,185v3h1v-3zM1394,241v2h1v-2zM116,267v2h1v-2zM201,488v5h1v-5zM117,269v2h1v-2zM80,200v3h1v-3zM67,159v4h1v-4zM124,284v2h1v-2zM369,461v2h1v-2zM381,433v3h1v-3zM760,467v2h1v-2zM1419,289v2h1v-2zM131,300v3h1v-3zM137,317v3h1v-3zM183,433v2h1v-2zM109,254v2h1v-2zM1249,264v2h1v-2zM811,409v2h1v-2zM159,375v4h1v-4zM1379,228v2h1v-2zM711,444v2h1v-2zM161,383v4h1v-4zM141,327v2h1v-2zM601,428v2h1v-2zM1259,248v2h1v-2zM144,333v2h1v-2zM190,448v2h1v-2zM162,387v3h1v-3zM1407,269v2h1v-2zM389,406v4h1v-4zM151,349v2h1v-2zM169,402v2h1v-2zM172,408v2h1v-2zM814,405v2h1v-2zM155,359v4h1v-4zM75,188v2h1v-2zM901,415v2h1v-2zM79,198v2h1v-2zM384,424v3h1v-3zM1228,293v2h1v-2zM1400,254v2h1v-2zM125,286v2h1v-2zM721,460v2h1v-2zM1244,272v2h1v-2zM122,279v3h1v-3zM207,504v2h1v-2zM359,487v4h1v-4zM90,220v2h1v-2zM196,464v5h1v-5zM107,250v2h1v-2zM136,314v3h1v-3zM111,257v2h1v-2zM392,395v4h1v-4zM383,427v3h1v-3zM170,404v2h1v-2zM150,346v3h1v-3zM171,406v2h1v-2zM71,174v3h1v-3zM706,433v2h1v-2zM899,418v2h1v-2zM185,438v2h1v-2zM1402,258v3h1v-3zM391,399v4h1v-4zM209,508v2h1v-2zM92,224v2h1v-2zM1409,273v2h1v-2zM1254,256v2h1v-2zM1118,331v2h1v-2zM366,468v2h1v-2zM386,418v3h1v-3zM120,275v2h1v-2zM360,484v3h1v-3zM148,341v3h1v-3zM1257,251v2h1v-2zM127,291v2h1v-2zM179,423v2h1v-2zM398,382v2h1v-2zM134,309v2h1v-2zM180,425v3h1v-3zM755,475v2h1v-2zM365,470v3h1v-3zM377,444v2h1v-2zM394,389v2h1v-2zM165,394v2h1v-2zM194,456v3h1v-3zM803,421v2h1v-2zM910,403v2h1v-2zM1240,278v2h1v-2zM1411,276v2h1v-2zM905,409v2h1v-2zM97,236v2h1v-2zM799,427v2h1v-2zM376,446v2h1v-2zM1232,288v2h1v-2zM1382,232v2h1v-2zM393,391v4h1v-4zM1385,236v2h1v-2zM76,190v3h1v-3zM118,271v2h1v-2zM372,454v2h1v-2zM203,496v2h1v-2zM82,205v2h1v-2zM119,273v2h1v-2zM83,207v2h1v-2zM1243,274v2h1v-2zM68,163v4h1v-4zM126,288v3h1v-3zM388,410v4h1v-4zM133,306v3h1v-3zM529,390v2h1v-2zM408,366v2h1v-2zM160,379v4h1v-4zM371,456v2h1v-2zM143,331v2h1v-2zM153,354v2h1v-2zM228,533v2h1v-2zM96,234v2h1v-2zM354,505v2h1v-2zM1395,243v2h1v-2zM202,493v3h1v-3zM81,203v2h1v-2zM403,374v2h1v-2zM113,261v2h1v-2zM145,335v2h1v-2zM152,351v3h1v-3zM230,536v2h1v-2zM173,410v2h1v-2zM1252,259v2h1v-2zM1182,321v2h1v-2zM1248,266v2h1v-2zM187,442v2h1v-2zM373,452v2h1v-2zM197,469v5h1v-5zM1236,283v2h1v-2zM1422,293v2h1v-2zM1425,297v2h1v-2zM356,498v3h1v-3zM112,259v2h1v-2zM368,463v2h1v-2zM380,436v3h1v-3zM355,501v4h1v-4zM200,483v5h1v-5zM1262,243v2h1v-2zM139,323v2h1v-2zM164,392v2h1v-2zM379,439v3h1v-3zM588,410v2h1v-2zM592,415v2h1v-2zM205,500v2h1v-2zM121,277v2h1v-2zM198,474v4h1v-4zM708,437v2h1v-2zM385,421v3h1v-3zM138,320v3h1v-3zM807,415v2h1v-2zM1401,256v2h1v-2zM715,452v2h1v-2zM166,396v2h1v-2zM212,512v2h1v-2zM91,222v2h1v-2zM1408,271v2h1v-2zM1412,278v2h1v-2zM98,238v2h1v-2zM73,181v4h1v-4zM364,473v2h1v-2zM204,498v2h1v-2zM130,297v3h1v-3zM115,265v2h1v-2zM714,450v2h1v-2zM147,339v2h1v-2zM193,454v2h1v-2zM154,356v3h1v-3zM175,414v2h1v-2zM758,470v2h1v-2zM232,539v2h1v-2zM100,241v2h1v-2zM128,293v2h1v-2zM216,517v2h1v-2zM390,403v3h1v-3zM70,170v4h1v-4zM1416,284v2h1v-2zM174,412v2h1v-2zM1430,303v2h1v-2zM903,412v2h1v-2zM1397,247v2h1v-2zM361,480v4h1v-4zM1404,263v2h1v-2zM94,229v2h1v-2zM158,371v4h1v-4zM718,456v2h1v-2zM69,167v3h1v-3zM72,177v4h1v-4zM104,246v2h1v-2zM182,430v3h1v-3zM108,252v2h1v-2zM710,441v3h1v-3zM707,435v2h1v-2zM140,325v2h1v-2zM186,440v2h1v-2zM189,446v2h1v-2zM1403,261v2h1v-2zM817,401v2h1v-2zM367,465v3h1v-3zM93,226v3h1v-3zM396,385v2h1v-2zM157,367v4h1v-4zM1251,261v2h1v-2zM78,195v3h1v-3zM206,502v2h1v-2zM85,211v2h1v-2zM220,522v2h1v-2zM358,491v3h1v-3zM801,424v2h1v-2zM378,442v2h1v-2zM797,430v2h1v-2zM135,311v3h1v-3zM395,387v2h1v-2zM709,439v2h1v-2zM188,444v2h1v-2zM382,430v3h1v-3zM149,344v2h1v-2zM167,398v2h1v-2zM523,382v2h1v-2zM1265,238v2h1v-2zM77,193v2h1v-2zM84,209v2h1v-2zM87,214v2h1v-2zM409,364v2h1v-2zM1264,240v2h1v-2zM1260,246v2h1v-2zM401,377v2h1v-2zM1256,253v2h1v-2zM1414,281v2h1v-2zM176,416v2h1v-2zM233,541v2h1v-2zM526,386v2h1v-2zM1399,252v2h1v-2zM1396,245v2h1v-2zM597,422v2h1v-2zM404,372v2h1v-2zM1406,267v2h1v-2zM224,527v2h1v-2zM129,295v2h1v-2zM400,379v2h1v-2zM363,475v2h1v-2zM375,448v2h1v-2zM809,412v2h1v-2zM114,263v2h1v-2zM1246,269v2h1v-2zM805,418v2h1v-2zM181,428v2h1v-2zM374,450v2h1v-2zM142,329v2h1v-2zM191,450v2h1v-2zM795,433v2h1v-2zM406,369v2h1v-2zM66,157v2h1v-2zM123,282v2h1v-2zM208,506v2h1v-2zM756,473v2h1v-2zM168,400v2h1v-2zM89,218v2h1v-2zM415,361h2v1h-2zM419,361h2v1h-2zM1037,361h2v1h-2zM1050,349h1v1h-1zM215,516h1v1h-1zM288,516h2v1h-2zM1272,232h1v1h-1zM1303,232h16v1h-16zM1348,232h3v1h-3zM517,380h4v1h-4zM995,380h1v1h-1zM810,411h1v1h-1zM877,411h1v1h-1zM904,411h1v1h-1zM1234,286h1v1h-1zM528,389h1v1h-1zM928,389h2v1h-2zM1273,231h1v1h-1zM1287,231h16v1h-16zM1351,231h2v1h-2zM1381,231h1v1h-1zM671,428h16v1h-16zM695,428h4v1h-4zM1068,338h2v1h-2zM1125,338h2v1h-2zM1161,338h2v1h-2zM1205,305h4v1h-4zM1431,305h1v1h-1zM575,402h2v1h-2zM840,402h2v1h-2zM844,402h3v1h-3zM864,402h2v1h-2zM911,402h1v1h-1zM957,387h4v1h-4zM967,387h8v1h-8zM983,387h4v1h-4zM636,436h3v1h-3zM644,436h1v1h-1zM793,436h1v1h-1zM584,407h2v1h-2zM813,407h1v1h-1zM872,407h2v1h-2zM907,407h1v1h-1zM1375,227h4v1h-4zM33,159h6v1h-6zM961,386h6v1h-6zM987,386h2v1h-2zM1359,229h8v1h-8zM1087,330h2v1h-2zM1117,330h1v1h-1zM1173,330h1v1h-1zM223,526h1v1h-1zM273,526h1v1h-1zM22,155h2v1h-2zM55,155h6v1h-6zM1269,234h2v1h-2zM1327,234h16v1h-16zM1383,234h1v1h-1zM573,400h1v1h-1zM818,400h3v1h-3zM836,400h2v1h-2zM849,400h6v1h-6zM860,400h2v1h-2zM913,400h1v1h-1zM926,390h2v1h-2zM1072,336h2v1h-2zM1122,336h1v1h-1zM1165,336h1v1h-1zM471,375h8v1h-8zM497,375h4v1h-4zM1000,375h1v1h-1zM1070,337h2v1h-2zM1123,337h2v1h-2zM1163,337h2v1h-2zM29,158h4v1h-4zM39,158h6v1h-6zM773,453h2v1h-2zM615,434h16v1h-16zM647,434h1v1h-1zM1201,306h4v1h-4zM1432,306h1v1h-1zM1058,341h3v1h-3zM1130,341h2v1h-2zM1151,341h2v1h-2zM1196,308h3v1h-3zM1434,308h1v1h-1zM536,395h2v1h-2zM551,395h8v1h-8zM564,395h2v1h-2zM919,395h1v1h-1zM445,372h4v1h-4zM1013,372h4v1h-4zM742,481h1v1h-1zM749,481h2v1h-2zM237,544h4v1h-4zM245,544h4v1h-4zM596,421h1v1h-1zM890,421h5v1h-5zM527,388h1v1h-1zM930,388h27v1h-27zM975,388h8v1h-8zM593,417h1v1h-1zM806,417h1v1h-1zM883,417h2v1h-2zM900,417h1v1h-1zM734,474h1v1h-1zM428,367h3v1h-3zM1026,367h2v1h-2zM1055,344h1v1h-1zM1137,344h6v1h-6zM1415,283h1v1h-1zM1084,331h3v1h-3zM1171,331h2v1h-2zM1418,288h1v1h-1zM1097,326h3v1h-3zM1112,326h2v1h-2zM1178,326h1v1h-1zM24,156h2v1h-2zM49,156h6v1h-6zM61,156h4v1h-4zM1095,327h2v1h-2zM1114,327h1v1h-1zM1177,327h1v1h-1zM1105,323h3v1h-3zM1181,323h1v1h-1zM1074,335h2v1h-2zM1121,335h1v1h-1zM1166,335h1v1h-1zM538,396h13v1h-13zM566,396h2v1h-2zM917,396h2v1h-2zM530,392h2v1h-2zM922,392h2v1h-2zM509,378h4v1h-4zM997,378h1v1h-1zM1388,239h3v1h-3zM607,432h2v1h-2zM649,432h1v1h-1zM704,432h2v1h-2zM796,432h1v1h-1zM587,409h1v1h-1zM875,409h1v1h-1zM405,371h1v1h-1zM441,371h4v1h-4zM1017,371h3v1h-3zM609,433h6v1h-6zM648,433h1v1h-1zM449,373h14v1h-14zM487,373h6v1h-6zM1002,373h11v1h-11zM412,362h3v1h-3zM421,362h1v1h-1zM1036,362h1v1h-1zM1079,333h2v1h-2zM1119,333h1v1h-1zM1169,333h1v1h-1zM297,513h3v1h-3zM407,368h1v1h-1zM431,368h2v1h-2zM1024,368h2v1h-2zM423,364h2v1h-2zM1033,364h2v1h-2zM1221,299h2v1h-2zM1426,299h1v1h-1zM425,365h1v1h-1zM1031,365h2v1h-2zM1185,318h1v1h-1zM513,379h4v1h-4zM996,379h1v1h-1zM259,539h1v1h-1zM602,430h2v1h-2zM653,430h4v1h-4zM701,430h2v1h-2zM255,541h2v1h-2zM1065,339h3v1h-3zM1127,339h1v1h-1zM1157,339h4v1h-4zM790,439h1v1h-1zM1274,230h13v1h-13zM1353,230h6v1h-6zM1380,230h1v1h-1zM574,401h1v1h-1zM838,401h2v1h-2zM847,401h2v1h-2zM862,401h2v1h-2zM912,401h1v1h-1zM571,399h2v1h-2zM821,399h4v1h-4zM831,399h5v1h-5zM855,399h5v1h-5zM914,399h1v1h-1zM210,510h1v1h-1zM305,510h6v1h-6zM335,510h6v1h-6zM1192,311h1v1h-1zM1081,332h3v1h-3zM1170,332h1v1h-1zM1057,342h1v1h-1zM1132,342h3v1h-3zM1148,342h3v1h-3zM266,532h1v1h-1zM1189,314h1v1h-1zM1056,343h1v1h-1zM1135,343h2v1h-2zM1143,343h5v1h-5zM657,429h14v1h-14zM699,429h2v1h-2zM798,429h1v1h-1zM463,374h8v1h-8zM479,374h8v1h-8zM493,374h4v1h-4zM1001,374h1v1h-1zM311,509h24v1h-24zM341,509h4v1h-4zM1089,329h3v1h-3zM1116,329h1v1h-1zM1174,329h1v1h-1zM229,535h1v1h-1zM263,535h1v1h-1zM589,412h1v1h-1zM878,412h1v1h-1zM505,377h4v1h-4zM998,377h1v1h-1zM1367,228h8v1h-8zM1042,357h1v1h-1zM570,398h1v1h-1zM825,398h6v1h-6zM915,398h1v1h-1zM568,397h2v1h-2zM916,397h1v1h-1zM727,467h1v1h-1zM1227,295h1v1h-1zM1423,295h1v1h-1zM804,420h1v1h-1zM888,420h2v1h-2zM895,420h4v1h-4zM1238,281h1v1h-1zM1049,350h1v1h-1zM1209,304h3v1h-3zM1233,287h1v1h-1zM577,403h1v1h-1zM816,403h1v1h-1zM842,403h2v1h-2zM866,403h1v1h-1zM1386,238h2v1h-2zM1046,353h1v1h-1zM7,153h13v1h-13zM213,514h1v1h-1zM293,514h4v1h-4zM26,157h3v1h-3zM45,157h4v1h-4zM65,157h1v1h-1zM99,240h1v1h-1zM1391,240h2v1h-2zM716,454h1v1h-1zM771,454h2v1h-2zM353,506h1v1h-1zM580,405h2v1h-2zM869,405h2v1h-2zM909,405h1v1h-1zM20,154h2v1h-2zM729,469h1v1h-1zM759,469h1v1h-1zM590,413h1v1h-1zM879,413h1v1h-1zM730,470h1v1h-1zM591,414h1v1h-1zM808,414h1v1h-1zM880,414h1v1h-1zM902,414h1v1h-1zM417,360h2v1h-2zM1039,360h1v1h-1zM586,408h1v1h-1zM812,408h1v1h-1zM874,408h1v1h-1zM906,408h1v1h-1zM780,448h1v1h-1zM1092,328h3v1h-3zM1115,328h1v1h-1zM1175,328h2v1h-2zM1061,340h4v1h-4zM1128,340h2v1h-2zM1153,340h4v1h-4zM300,512h3v1h-3zM781,447h2v1h-2zM214,515h1v1h-1zM290,515h3v1h-3zM1076,334h3v1h-3zM1120,334h1v1h-1zM1167,334h2v1h-2zM286,517h2v1h-2zM1271,233h1v1h-1zM1319,233h8v1h-8zM1343,233h5v1h-5zM631,435h5v1h-5zM645,435h2v1h-2zM794,435h1v1h-1zM1048,351h1v1h-1zM1393,241h1v1h-1zM534,394h2v1h-2zM559,394h5v1h-5zM920,394h1v1h-1zM604,431h3v1h-3zM650,431h3v1h-3zM703,431h1v1h-1zM743,482h2v1h-2zM748,482h1v1h-1zM786,443h1v1h-1zM732,472h1v1h-1zM757,472h1v1h-1zM271,528h1v1h-1zM882,416h1v1h-1zM426,366h2v1h-2zM1028,366h3v1h-3zM241,545h4v1h-4zM1188,315h1v1h-1zM433,369h4v1h-4zM1022,369h2v1h-2zM262,536h1v1h-1zM993,382h1v1h-1zM1231,290h1v1h-1zM1263,242h1v1h-1zM578,404h2v1h-2zM815,404h1v1h-1zM867,404h2v1h-2zM1226,296h1v1h-1zM1424,296h1v1h-1zM738,478h1v1h-1zM753,478h1v1h-1zM739,479h2v1h-2zM752,479h1v1h-1zM1053,346h1v1h-1zM217,519h1v1h-1zM282,519h2v1h-2zM225,529h1v1h-1zM269,529h2v1h-2zM1103,324h2v1h-2zM1108,324h2v1h-2zM1180,324h1v1h-1zM769,456h1v1h-1zM722,462h1v1h-1zM764,462h1v1h-1zM277,523h1v1h-1zM1253,258h1v1h-1zM2,152h5v1h-5zM1230,291h1v1h-1zM1420,291h1v1h-1zM402,376h1v1h-1zM501,376h4v1h-4zM999,376h1v1h-1zM349,507h4v1h-4zM110,256h1v1h-1zM257,540h2v1h-2zM598,424h1v1h-1zM726,466h1v1h-1zM252,542h3v1h-3zM887,419h1v1h-1zM226,530h1v1h-1zM268,530h1v1h-1zM1190,313h1v1h-1zM397,384h1v1h-1zM524,384h1v1h-1zM990,384h1v1h-1zM779,449h1v1h-1zM582,406h2v1h-2zM871,406h1v1h-1zM908,406h1v1h-1zM1040,359h1v1h-1zM802,423h1v1h-1zM1239,280h1v1h-1zM1413,280h1v1h-1zM1229,292h1v1h-1zM1421,292h1v1h-1zM1268,235h1v1h-1zM1384,235h1v1h-1zM1047,352h1v1h-1zM437,370h4v1h-4zM1020,370h2v1h-2zM600,427h1v1h-1zM687,427h8v1h-8zM728,468h1v1h-1zM1054,345h1v1h-1zM991,383h2v1h-2zM717,455h1v1h-1zM770,455h1v1h-1zM765,461h1v1h-1zM735,475h1v1h-1zM746,484h1v1h-1zM1258,250h1v1h-1zM399,381h1v1h-1zM521,381h2v1h-2zM994,381h1v1h-1zM1215,302h2v1h-2zM1429,302h1v1h-1zM741,480h1v1h-1zM751,480h1v1h-1zM1217,301h2v1h-2zM1428,301h1v1h-1zM776,451h2v1h-2zM787,442h1v1h-1zM1041,358h1v1h-1zM736,476h1v1h-1zM211,511h1v1h-1zM303,511h2v1h-2zM737,477h1v1h-1zM754,477h1v1h-1zM1186,317h1v1h-1zM101,243h1v1h-1zM641,438h2v1h-2zM791,438h1v1h-1zM594,418h1v1h-1zM885,418h2v1h-2zM1193,310h1v1h-1zM639,437h2v1h-2zM643,437h1v1h-1zM792,437h1v1h-1zM267,531h1v1h-1zM234,543h3v1h-3zM249,543h3v1h-3zM924,391h2v1h-2zM1267,236h1v1h-1zM1100,325h3v1h-3zM1110,325h2v1h-2zM1179,325h1v1h-1zM525,385h1v1h-1zM989,385h1v1h-1zM278,522h1v1h-1zM1410,275h1v1h-1zM1212,303h3v1h-3zM284,518h2v1h-2zM1183,320h1v1h-1zM719,458h1v1h-1zM767,458h1v1h-1zM264,534h1v1h-1zM1187,316h1v1h-1zM261,537h1v1h-1zM1224,297h2v1h-2zM345,508h4v1h-4zM733,473h1v1h-1zM745,483h1v1h-1zM747,483h1v1h-1zM783,446h1v1h-1zM1052,347h1v1h-1zM532,393h2v1h-2zM921,393h1v1h-1zM768,457h1v1h-1zM221,524h1v1h-1zM275,524h2v1h-2zM723,463h1v1h-1zM763,463h1v1h-1zM778,450h1v1h-1zM1247,268h1v1h-1zM785,444h1v1h-1zM1194,309h2v1h-2zM800,426h1v1h-1zM1219,300h2v1h-2zM1427,300h1v1h-1zM1044,355h1v1h-1zM231,538h1v1h-1zM260,538h1v1h-1zM103,245h1v1h-1zM1261,245h1v1h-1zM1051,348h1v1h-1zM222,525h1v1h-1zM274,525h1v1h-1zM724,464h1v1h-1zM762,464h1v1h-1zM775,452h1v1h-1zM1199,307h2v1h-2zM1433,307h1v1h-1zM784,445h1v1h-1zM1242,276h1v1h-1zM1237,282h1v1h-1zM102,244h1v1h-1zM1266,237h1v1h-1zM1045,354h1v1h-1zM788,441h1v1h-1zM876,410h1v1h-1zM410,363h2v1h-2zM422,363h1v1h-1zM1035,363h1v1h-1zM218,520h1v1h-1zM281,520h1v1h-1zM219,521h1v1h-1zM279,521h2v1h-2zM105,248h1v1h-1zM1255,255h1v1h-1zM720,459h1v1h-1zM1223,298h1v1h-1zM106,249h1v1h-1zM1235,285h1v1h-1zM1184,319h1v1h-1zM1245,271h1v1h-1zM1241,277h1v1h-1zM1191,312h1v1h-1zM265,533h1v1h-1zM272,527h1v1h-1zM86,213h1v1h-1zM725,465h1v1h-1zM1250,263h1v1h-1zM789,440h1v1h-1zM1043,356h1v1h-1zM731,471h1v1h-1zM881,415h1v1h-1z" fill="#2eaa6a"/><rect x="2" y="116" width="1" height="7" fill="#000"/><rect x="0" y="119" width="5" height="1" fill="#000"/><rect x="10" y="78" width="1" height="35" fill="#000"/><rect x="8" y="81" width="5" height="30" fill="#000"/><rect x="9" y="82" width="3" height="28" fill="#fff"/><rect x="18" y="70" width="1" height="17" fill="#000"/><rect x="16" y="74" width="5" height="9" fill="#000"/><rect x="17" y="75" width="3" height="7" fill="#fff"/><rect x="26" y="58" width="1" height="21" fill="#000"/><rect x="24" y="63" width="5" height="12" fill="#000"/><rect x="25" y="64" width="3" height="10" fill="#fff"/><rect x="34" y="56" width="1" height="21" fill="#000"/><rect x="32" y="63" width="5" height="8" fill="#000"/><rect x="42" y="68" width="1" height="33" fill="#000"/><rect x="40" y="70" width="5" height="27" fill="#000"/><rect x="50" y="86" width="1" height="15" fill="#000"/><rect x="48" y="90" width="5" height="7" fill="#000"/><rect x="49" y="91" width="3" height="5" fill="#fff"/><rect x="58" y="88" width="1" height="37" fill="#000"/><rect x="56" y="90" width="5" height="30" fill="#000"/><rect x="66" y="116" width="1" height="36" fill="#000"/><rect x="64" y="117" width="5" height="32" fill="#000"/><rect x="74" y="146" width="1" height="94" fill="#000"/><rect x="72" y="146" width="5" height="84" fill="#000"/><rect x="82" y="228" width="1" height="17" fill="#000"/><rect x="80" y="231" width="5" height="12" fill="#000"/><rect x="81" y="232" width="3" height="10" fill="#fff"/><rect x="90" y="199" width="1" height="50" fill="#000"/><rect x="88" y="214" width="5" height="16" fill="#000"/><rect x="89" y="215" width="3" height="14" fill="#fff"/><rect x="98" y="215" width="1" height="40" fill="#000"/><rect x="96" y="216" width="5" height="31" fill="#000"/><rect x="106" y="211" width="1" height="37" fill="#000"/><rect x="104" y="212" width="5" height="35" fill="#000"/><rect x="105" y="213" width="3" height="33" fill="#fff"/><rect x="114" y="213" width="1" height="31" fill="#000"/><rect x="112" y="214" width="5" height="26" fill="#000"/><rect x="122" y="234" width="1" height="33" fill="#000"/><rect x="120" y="238" width="5" height="18" fill="#000"/><rect x="130" y="268" width="1" height="16" fill="#000"/><rect x="128" y="274" width="5" height="10" fill="#000"/><rect x="129" y="275" width="3" height="8" fill="#fff"/><rect x="138" y="270" width="1" height="92" fill="#000"/><rect x="136" y="273" width="5" height="37" fill="#000"/><rect x="146" y="247" width="1" height="80" fill="#000"/><rect x="144" y="288" width="5" height="20" fill="#000"/><rect x="145" y="289" width="3" height="18" fill="#fff"/><rect x="154" y="263" width="1" height="70" fill="#000"/><rect x="152" y="288" width="5" height="39" fill="#000"/><rect x="162" y="320" width="1" height="73" fill="#000"/><rect x="160" y="325" width="5" height="61" fill="#000"/><rect x="170" y="318" width="1" height="77" fill="#000"/><rect x="168" y="348" width="5" height="38" fill="#000"/><rect x="169" y="349" width="3" height="36" fill="#fff"/><rect x="178" y="361" width="1" height="33" fill="#000"/><rect x="176" y="374" width="5" height="3" fill="#000"/><rect x="177" y="375" width="3" height="1" fill="#fff"/><rect x="186" y="361" width="1" height="91" fill="#000"/><rect x="184" y="374" width="5" height="44" fill="#000"/><rect x="194" y="394" width="1" height="66" fill="#000"/><rect x="192" y="417" width="5" height="5" fill="#000"/><rect x="202" y="416" width="1" height="155" fill="#000"/><rect x="200" y="421" width="5" height="108" fill="#000"/><rect x="210" y="435" width="1" height="119" fill="#000"/><rect x="208" y="476" width="5" height="52" fill="#000"/><rect x="209" y="477" width="3" height="50" fill="#fff"/><rect x="218" y="374" width="1" height="113" fill="#000"/><rect x="216" y="458" width="5" height="18" fill="#000"/><rect x="217" y="459" width="3" height="16" fill="#fff"/><rect x="226" y="447" width="1" height="29" fill="#000"/><rect x="224" y="468" width="5" height="1" fill="#000"/><rect x="234" y="446" width="1" height="44" fill="#000"/><rect x="232" y="461" width="5" height="7" fill="#000"/><rect x="233" y="462" width="3" height="5" fill="#fff"/><rect x="242" y="389" width="1" height="85" fill="#000"/><rect x="240" y="400" width="5" height="62" fill="#000"/><rect x="241" y="401" width="3" height="60" fill="#fff"/><rect x="250" y="341" width="1" height="87" fill="#000"/><rect x="248" y="392" width="5" height="9" fill="#000"/><rect x="249" y="393" width="3" height="7" fill="#fff"/><rect x="258" y="330" width="1" height="80" fill="#000"/><rect x="256" y="349" width="5" height="43" fill="#000"/><rect x="257" y="350" width="3" height="41" fill="#fff"/><rect x="266" y="312" width="1" height="61" fill="#000"/><rect x="264" y="313" width="5" height="36" fill="#000"/><rect x="265" y="314" width="3" height="34" fill="#fff"/><rect x="274" y="328" width="1" height="11" fill="#000"/><rect x="272" y="331" width="5" height="8" fill="#000"/><rect x="273" y="332" width="3" height="6" fill="#fff"/><rect x="282" y="316" width="1" height="41" fill="#000"/><rect x="280" y="331" width="5" height="4" fill="#000"/><rect x="290" y="311" width="1" height="38" fill="#000"/><rect x="288" y="334" width="5" height="8" fill="#000"/><rect x="298" y="336" width="1" height="28" fill="#000"/><rect x="296" y="341" width="5" height="15" fill="#000"/><rect x="306" y="324" width="1" height="39" fill="#000"/><rect x="304" y="329" width="5" height="27" fill="#000"/><rect x="305" y="330" width="3" height="25" fill="#fff"/><rect x="314" y="328" width="1" height="34" fill="#000"/><rect x="312" y="330" width="5" height="25" fill="#000"/><rect x="322" y="354" width="1" height="6" fill="#000"/><rect x="320" y="355" width="5" height="3" fill="#000"/><rect x="321" y="356" width="3" height="1" fill="#fff"/><rect x="330" y="313" width="1" height="44" fill="#000"/><rect x="328" y="339" width="5" height="17" fill="#000"/><rect x="329" y="340" width="3" height="15" fill="#fff"/><rect x="338" y="302" width="1" height="47" fill="#000"/><rect x="336" y="324" width="5" height="16" fill="#000"/><rect x="337" y="325" width="3" height="14" fill="#fff"/><rect x="346" y="302" width="1" height="32" fill="#000"/><rect x="344" y="302" width="5" height="24" fill="#000"/><rect x="345" y="303" width="3" height="22" fill="#fff"/><rect x="354" y="283" width="1" height="28" fill="#000"/><rect x="352" y="301" width="5" height="2" fill="#000"/><rect x="362" y="297" width="1" height="8" fill="#000"/><rect x="360" y="298" width="5" height="6" fill="#000"/><rect x="370" y="298" width="1" height="16" fill="#000"/><rect x="368" y="302" width="5" height="6" fill="#000"/><rect x="378" y="289" width="1" height="24" fill="#000"/><rect x="376" y="296" width="5" height="12" fill="#000"/><rect x="377" y="297" width="3" height="10" fill="#fff"/><rect x="386" y="295" width="1" height="41" fill="#000"/><rect x="384" y="296" width="5" height="13" fill="#000"/><rect x="394" y="303" width="1" height="31" fill="#000"/><rect x="392" y="306" width="5" height="3" fill="#000"/><rect x="402" y="305" width="1" height="24" fill="#000"/><rect x="400" y="305" width="5" height="13" fill="#000"/><rect x="410" y="314" width="1" height="3" fill="#000"/><rect x="408" y="314" width="5" height="2" fill="#000"/><rect x="418" y="308" width="1" height="24" fill="#000"/><rect x="416" y="315" width="5" height="13" fill="#000"/><rect x="426" y="324" width="1" height="54" fill="#000"/><rect x="424" y="326" width="5" height="37" fill="#000"/><rect x="434" y="343" width="1" height="32" fill="#000"/><rect x="432" y="354" width="5" height="8" fill="#000"/><rect x="433" y="355" width="3" height="6" fill="#fff"/><rect x="442" y="334" width="1" height="32" fill="#000"/><rect x="440" y="351" width="5" height="4" fill="#000"/><rect x="441" y="352" width="3" height="2" fill="#fff"/><rect x="450" y="347" width="1" height="19" fill="#000"/><rect x="448" y="350" width="5" height="9" fill="#000"/><rect x="458" y="351" width="1" height="5" fill="#000"/><rect x="456" y="352" width="5" height="3" fill="#000"/><rect x="457" y="353" width="3" height="1" fill="#fff"/><rect x="466" y="336" width="1" height="18" fill="#000"/><rect x="464" y="344" width="5" height="9" fill="#000"/><rect x="465" y="345" width="3" height="7" fill="#fff"/><rect x="474" y="337" width="1" height="22" fill="#000"/><rect x="472" y="344" width="5" height="14" fill="#000"/><rect x="482" y="350" width="1" height="27" fill="#000"/><rect x="480" y="352" width="5" height="6" fill="#000"/><rect x="481" y="353" width="3" height="4" fill="#fff"/><rect x="490" y="290" width="1" height="69" fill="#000"/><rect x="488" y="302" width="5" height="51" fill="#000"/><rect x="489" y="303" width="3" height="49" fill="#fff"/><rect x="498" y="299" width="1" height="43" fill="#000"/><rect x="496" y="302" width="5" height="39" fill="#000"/><rect x="506" y="346" width="1" height="10" fill="#000"/><rect x="504" y="348" width="5" height="5" fill="#000"/><rect x="514" y="345" width="1" height="18" fill="#000"/><rect x="512" y="352" width="5" height="5" fill="#000"/><rect x="522" y="346" width="1" height="20" fill="#000"/><rect x="520" y="355" width="5" height="10" fill="#000"/><rect x="530" y="364" width="1" height="45" fill="#000"/><rect x="528" y="364" width="5" height="39" fill="#000"/><rect x="538" y="375" width="1" height="31" fill="#000"/><rect x="536" y="384" width="5" height="19" fill="#000"/><rect x="537" y="385" width="3" height="17" fill="#fff"/><rect x="546" y="358" width="1" height="29" fill="#000"/><rect x="544" y="366" width="5" height="19" fill="#000"/><rect x="545" y="367" width="3" height="17" fill="#fff"/><rect x="554" y="356" width="1" height="8" fill="#000"/><rect x="552" y="356" width="5" height="5" fill="#000"/><rect x="553" y="357" width="3" height="3" fill="#fff"/><rect x="562" y="346" width="1" height="33" fill="#000"/><rect x="560" y="356" width="5" height="3" fill="#000"/><rect x="570" y="354" width="1" height="40" fill="#000"/><rect x="568" y="358" width="5" height="35" fill="#000"/><rect x="578" y="376" width="1" height="33" fill="#000"/><rect x="576" y="392" width="5" height="12" fill="#000"/><rect x="586" y="391" width="1" height="30" fill="#000"/><rect x="584" y="391" width="5" height="13" fill="#000"/><rect x="585" y="392" width="3" height="11" fill="#fff"/><rect x="594" y="389" width="1" height="37" fill="#000"/><rect x="592" y="390" width="5" height="35" fill="#000"/><rect x="602" y="431" width="1" height="7" fill="#000"/><rect x="600" y="432" width="5" height="4" fill="#000"/><rect x="610" y="393" width="1" height="43" fill="#000"/><rect x="608" y="399" width="5" height="36" fill="#000"/><rect x="609" y="400" width="3" height="34" fill="#fff"/><rect x="618" y="362" width="1" height="44" fill="#000"/><rect x="616" y="371" width="5" height="30" fill="#000"/><rect x="617" y="372" width="3" height="28" fill="#fff"/><rect x="626" y="365" width="1" height="25" fill="#000"/><rect x="624" y="371" width="5" height="13" fill="#000"/><rect x="634" y="376" width="1" height="19" fill="#000"/><rect x="632" y="383" width="5" height="4" fill="#000"/><rect x="642" y="380" width="1" height="28" fill="#000"/><rect x="640" y="385" width="5" height="16" fill="#000"/><rect x="650" y="391" width="1" height="6" fill="#000"/><rect x="648" y="392" width="5" height="3" fill="#000"/><rect x="649" y="393" width="3" height="1" fill="#fff"/><rect x="658" y="389" width="1" height="12" fill="#000"/><rect x="656" y="390" width="5" height="3" fill="#000"/><rect x="657" y="391" width="3" height="1" fill="#fff"/><rect x="666" y="349" width="1" height="42" fill="#000"/><rect x="664" y="361" width="5" height="30" fill="#000"/><rect x="665" y="362" width="3" height="28" fill="#fff"/><rect x="674" y="350" width="1" height="36" fill="#000"/><rect x="672" y="361" width="5" height="10" fill="#000"/><rect x="682" y="353" width="1" height="27" fill="#000"/><rect x="680" y="360" width="5" height="11" fill="#000"/><rect x="681" y="361" width="3" height="9" fill="#fff"/><rect x="690" y="339" width="1" height="42" fill="#000"/><rect x="688" y="354" width="5" height="7" fill="#000"/><rect x="689" y="355" width="3" height="5" fill="#fff"/><rect x="698" y="350" width="1" height="5" fill="#000"/><rect x="696" y="350" width="5" height="2" fill="#000"/><rect x="706" y="313" width="1" height="40" fill="#000"/><rect x="704" y="319" width="5" height="33" fill="#000"/><rect x="705" y="320" width="3" height="31" fill="#fff"/><rect x="714" y="254" width="1" height="66" fill="#000"/><rect x="712" y="254" width="5" height="66" fill="#000"/><rect x="713" y="255" width="3" height="64" fill="#fff"/><rect x="722" y="243" width="1" height="29" fill="#000"/><rect x="720" y="251" width="5" height="5" fill="#000"/><rect x="721" y="252" width="3" height="3" fill="#fff"/><rect x="730" y="233" width="1" height="46" fill="#000"/><rect x="728" y="238" width="5" height="14" fill="#000"/><rect x="729" y="239" width="3" height="12" fill="#fff"/><rect x="738" y="185" width="1" height="62" fill="#000"/><rect x="736" y="207" width="5" height="32" fill="#000"/><rect x="737" y="208" width="3" height="30" fill="#fff"/><rect x="746" y="189" width="1" height="13" fill="#000"/><rect x="744" y="193" width="5" height="8" fill="#000"/><rect x="745" y="194" width="3" height="6" fill="#fff"/><rect x="754" y="193" width="1" height="50" fill="#000"/><rect x="752" y="193" width="5" height="34" fill="#000"/><rect x="762" y="223" width="1" height="49" fill="#000"/><rect x="760" y="227" width="5" height="26" fill="#000"/><rect x="770" y="242" width="1" height="37" fill="#000"/><rect x="768" y="252" width="5" height="26" fill="#000"/><rect x="778" y="266" width="1" height="59" fill="#000"/><rect x="776" y="275" width="5" height="45" fill="#000"/><rect x="786" y="276" width="1" height="57" fill="#000"/><rect x="784" y="318" width="5" height="4" fill="#000"/><rect x="794" y="314" width="1" height="11" fill="#000"/><rect x="792" y="315" width="5" height="7" fill="#000"/><rect x="802" y="281" width="1" height="59" fill="#000"/><rect x="800" y="281" width="5" height="39" fill="#000"/><rect x="801" y="282" width="3" height="37" fill="#fff"/><rect x="810" y="268" width="1" height="41" fill="#000"/><rect x="808" y="280" width="5" height="19" fill="#000"/><rect x="818" y="298" width="1" height="27" fill="#000"/><rect x="816" y="298" width="5" height="27" fill="#000"/><rect x="826" y="317" width="1" height="49" fill="#000"/><rect x="824" y="323" width="5" height="30" fill="#000"/><rect x="834" y="344" width="1" height="34" fill="#000"/><rect x="832" y="351" width="5" height="24" fill="#000"/><rect x="842" y="376" width="1" height="6" fill="#000"/><rect x="840" y="377" width="5" height="3" fill="#000"/><rect x="850" y="333" width="1" height="50" fill="#000"/><rect x="848" y="335" width="5" height="43" fill="#000"/><rect x="849" y="336" width="3" height="41" fill="#fff"/><rect x="858" y="326" width="1" height="36" fill="#000"/><rect x="856" y="335" width="5" height="9" fill="#000"/><rect x="866" y="335" width="1" height="25" fill="#000"/><rect x="864" y="343" width="5" height="12" fill="#000"/><rect x="874" y="335" width="1" height="22" fill="#000"/><rect x="872" y="347" width="5" height="8" fill="#000"/><rect x="873" y="348" width="3" height="6" fill="#fff"/><rect x="882" y="344" width="1" height="31" fill="#000"/><rect x="880" y="348" width="5" height="21" fill="#000"/><rect x="890" y="367" width="1" height="5" fill="#000"/><rect x="888" y="367" width="5" height="3" fill="#000"/><rect x="889" y="368" width="3" height="1" fill="#fff"/><rect x="898" y="358" width="1" height="20" fill="#000"/><rect x="896" y="364" width="5" height="4" fill="#000"/><rect x="897" y="365" width="3" height="2" fill="#fff"/><rect x="906" y="329" width="1" height="46" fill="#000"/><rect x="904" y="331" width="5" height="34" fill="#000"/><rect x="905" y="332" width="3" height="32" fill="#fff"/><rect x="914" y="320" width="1" height="33" fill="#000"/><rect x="912" y="330" width="5" height="2" fill="#000"/><rect x="922" y="309" width="1" height="23" fill="#000"/><rect x="920" y="326" width="5" height="5" fill="#000"/><rect x="921" y="327" width="3" height="3" fill="#fff"/><rect x="930" y="322" width="1" height="13" fill="#000"/><rect x="928" y="323" width="5" height="4" fill="#000"/><rect x="929" y="324" width="3" height="2" fill="#fff"/><rect x="938" y="320" width="1" height="5" fill="#000"/><rect x="936" y="321" width="5" height="3" fill="#000"/><rect x="937" y="322" width="3" height="1" fill="#fff"/><rect x="946" y="309" width="1" height="18" fill="#000"/><rect x="944" y="321" width="5" height="2" fill="#000"/><rect x="954" y="291" width="1" height="34" fill="#000"/><rect x="952" y="304" width="5" height="20" fill="#000"/><rect x="953" y="305" width="3" height="18" fill="#fff"/><rect x="962" y="291" width="1" height="22" fill="#000"/><rect x="960" y="294" width="5" height="11" fill="#000"/><rect x="961" y="295" width="3" height="9" fill="#fff"/><rect x="970" y="279" width="1" height="22" fill="#000"/><rect x="968" y="294" width="5" height="4" fill="#000"/><rect x="978" y="296" width="1" height="24" fill="#000"/><rect x="976" y="297" width="5" height="5" fill="#000"/><rect x="986" y="299" width="1" height="5" fill="#000"/><rect x="984" y="300" width="5" height="3" fill="#000"/><rect x="994" y="289" width="1" height="23" fill="#000"/><rect x="992" y="301" width="5" height="10" fill="#000"/><rect x="1002" y="304" width="1" height="24" fill="#000"/><rect x="1000" y="306" width="5" height="5" fill="#000"/><rect x="1001" y="307" width="3" height="3" fill="#fff"/><rect x="1010" y="299" width="1" height="17" fill="#000"/><rect x="1008" y="306" width="5" height="6" fill="#000"/><rect x="1018" y="297" width="1" height="29" fill="#000"/><rect x="1016" y="308" width="5" height="5" fill="#000"/><rect x="1017" y="309" width="3" height="3" fill="#fff"/><rect x="1026" y="304" width="1" height="21" fill="#000"/><rect x="1024" y="308" width="5" height="9" fill="#000"/><rect x="1034" y="310" width="1" height="5" fill="#000"/><rect x="1032" y="310" width="5" height="4" fill="#000"/><rect x="1033" y="311" width="3" height="2" fill="#fff"/><rect x="1042" y="279" width="1" height="39" fill="#000"/><rect x="1040" y="284" width="5" height="28" fill="#000"/><rect x="1041" y="285" width="3" height="26" fill="#fff"/><rect x="1050" y="266" width="1" height="19" fill="#000"/><rect x="1048" y="276" width="5" height="9" fill="#000"/><rect x="1049" y="277" width="3" height="7" fill="#fff"/><rect x="1058" y="262" width="1" height="34" fill="#000"/><rect x="1056" y="267" width="5" height="11" fill="#000"/><rect x="1057" y="268" width="3" height="9" fill="#fff"/><rect x="1066" y="262" width="1" height="21" fill="#000"/><rect x="1064" y="267" width="5" height="11" fill="#000"/><rect x="1074" y="276" width="1" height="27" fill="#000"/><rect x="1072" y="277" width="5" height="11" fill="#000"/><rect x="1082" y="283" width="1" height="7" fill="#000"/><rect x="1080" y="286" width="5" height="1" fill="#000"/><rect x="1090" y="281" width="1" height="18" fill="#000"/><rect x="1088" y="285" width="5" height="1" fill="#000"/><rect x="1098" y="274" width="1" height="21" fill="#000"/><rect x="1096" y="280" width="5" height="6" fill="#000"/><rect x="1097" y="281" width="3" height="4" fill="#fff"/><rect x="1106" y="265" width="1" height="21" fill="#000"/><rect x="1104" y="269" width="5" height="13" fill="#000"/><rect x="1105" y="270" width="3" height="11" fill="#fff"/><rect x="1114" y="243" width="1" height="34" fill="#000"/><rect x="1112" y="245" width="5" height="25" fill="#000"/><rect x="1113" y="246" width="3" height="23" fill="#fff"/><rect x="1122" y="198" width="1" height="60" fill="#000"/><rect x="1120" y="213" width="5" height="33" fill="#000"/><rect x="1121" y="214" width="3" height="31" fill="#fff"/><rect x="1130" y="210" width="1" height="6" fill="#000"/><rect x="1128" y="211" width="5" height="4" fill="#000"/><rect x="1129" y="212" width="3" height="2" fill="#fff"/><rect x="1138" y="203" width="1" height="32" fill="#000"/><rect x="1136" y="211" width="5" height="2" fill="#000"/><rect x="1146" y="206" width="1" height="28" fill="#000"/><rect x="1144" y="212" width="5" height="12" fill="#000"/><rect x="1154" y="203" width="1" height="25" fill="#000"/><rect x="1152" y="214" width="5" height="10" fill="#000"/><rect x="1153" y="215" width="3" height="8" fill="#fff"/><rect x="1162" y="198" width="1" height="20" fill="#000"/><rect x="1160" y="210" width="5" height="5" fill="#000"/><rect x="1161" y="211" width="3" height="3" fill="#fff"/><rect x="1170" y="209" width="1" height="24" fill="#000"/><rect x="1168" y="209" width="5" height="13" fill="#000"/><rect x="1178" y="223" width="1" height="3" fill="#000"/><rect x="1176" y="224" width="5" height="1" fill="#000"/><rect x="1186" y="213" width="1" height="13" fill="#000"/><rect x="1184" y="213" width="5" height="12" fill="#000"/><rect x="1185" y="214" width="3" height="10" fill="#fff"/><rect x="1194" y="191" width="1" height="24" fill="#000"/><rect x="1192" y="204" width="5" height="10" fill="#000"/><rect x="1193" y="205" width="3" height="8" fill="#fff"/><rect x="1202" y="188" width="1" height="19" fill="#000"/><rect x="1200" y="194" width="5" height="11" fill="#000"/><rect x="1201" y="195" width="3" height="9" fill="#fff"/><rect x="1210" y="174" width="1" height="23" fill="#000"/><rect x="1208" y="183" width="5" height="12" fill="#000"/><rect x="1209" y="184" width="3" height="10" fill="#fff"/><rect x="1218" y="178" width="1" height="18" fill="#000"/><rect x="1216" y="183" width="5" height="9" fill="#000"/><rect x="1226" y="187" width="1" height="3" fill="#000"/><rect x="1224" y="187" width="5" height="2" fill="#000"/><rect x="1234" y="186" width="1" height="25" fill="#000"/><rect x="1232" y="186" width="5" height="20" fill="#000"/><rect x="1242" y="188" width="1" height="26" fill="#000"/><rect x="1240" y="192" width="5" height="14" fill="#000"/><rect x="1241" y="193" width="3" height="12" fill="#fff"/><rect x="1250" y="180" width="1" height="29" fill="#000"/><rect x="1248" y="192" width="5" height="11" fill="#000"/><rect x="1258" y="181" width="1" height="33" fill="#000"/><rect x="1256" y="186" width="5" height="17" fill="#000"/><rect x="1257" y="187" width="3" height="15" fill="#fff"/><rect x="1266" y="180" width="1" height="43" fill="#000"/><rect x="1264" y="186" width="5" height="29" fill="#000"/><rect x="1274" y="211" width="1" height="3" fill="#000"/><rect x="1272" y="211" width="5" height="3" fill="#000"/><rect x="1282" y="203" width="1" height="19" fill="#000"/><rect x="1280" y="213" width="5" height="1" fill="#000"/><rect x="1290" y="178" width="1" height="40" fill="#000"/><rect x="1288" y="181" width="5" height="34" fill="#000"/><rect x="1289" y="182" width="3" height="32" fill="#fff"/><rect x="1298" y="171" width="1" height="18" fill="#000"/><rect x="1296" y="180" width="5" height="2" fill="#000"/><rect x="1306" y="158" width="1" height="29" fill="#000"/><rect x="1304" y="160" width="5" height="21" fill="#000"/><rect x="1305" y="161" width="3" height="19" fill="#fff"/><rect x="1314" y="139" width="1" height="40" fill="#000"/><rect x="1312" y="160" width="5" height="4" fill="#000"/><rect x="1322" y="155" width="1" height="4" fill="#000"/><rect x="1320" y="155" width="5" height="2" fill="#000"/><rect x="1330" y="129" width="1" height="38" fill="#000"/><rect x="1328" y="138" width="5" height="19" fill="#000"/><rect x="1329" y="139" width="3" height="17" fill="#fff"/><rect x="1338" y="112" width="1" height="35" fill="#000"/><rect x="1336" y="132" width="5" height="7" fill="#000"/><rect x="1337" y="133" width="3" height="5" fill="#fff"/><rect x="1346" y="132" width="1" height="24" fill="#000"/><rect x="1344" y="133" width="5" height="3" fill="#000"/><rect x="1354" y="135" width="1" height="33" fill="#000"/><rect x="1352" y="135" width="5" height="27" fill="#000"/><rect x="1362" y="143" width="1" height="35" fill="#000"/><rect x="1360" y="151" width="5" height="11" fill="#000"/><rect x="1361" y="152" width="3" height="9" fill="#fff"/><rect x="1370" y="157" width="1" height="4" fill="#000"/><rect x="1368" y="158" width="5" height="1" fill="#000"/><rect x="1378" y="154" width="1" height="29" fill="#000"/><rect x="1376" y="159" width="5" height="24" fill="#000"/><rect x="1386" y="181" width="1" height="71" fill="#000"/><rect x="1384" y="181" width="5" height="63" fill="#000"/><rect x="1394" y="219" width="1" height="33" fill="#000"/><rect x="1392" y="226" width="5" height="18" fill="#000"/><rect x="1393" y="227" width="3" height="16" fill="#fff"/><rect x="1402" y="219" width="1" height="69" fill="#000"/><rect x="1400" y="225" width="5" height="55" fill="#000"/><rect x="1410" y="265" width="1" height="23" fill="#000"/><rect x="1408" y="278" width="5" height="8" fill="#000"/><rect x="1418" y="278" width="1" height="4" fill="#000"/><rect x="1416" y="278" width="5" height="2" fill="#000"/><rect x="1426" y="262" width="1" height="22" fill="#000"/><rect x="1424" y="278" width="5" height="5" fill="#000"/><rect x="1434" y="266" width="1" height="26" fill="#000"/><rect x="1432" y="279" width="5" height="2" fill="#000"/></g><rect x="1275" y="260" width="10" height="1" fill="#ff0000"/><rect x="1285.5" y="248.5" width="73" height="24" fill="#fff" stroke="#ff0000" stroke-width="1"/><text x="1286.6" y="269" textLength="71.5" lengthAdjust="spacingAndGlyphs" style='font-family:"Liberation Sans",sans-serif;font-size:22.4px;fill:#ff0000' shape-rendering="auto">136.668</text><g shape-rendering="auto"><line x1="1338.6" y1="116.3" x2="1444.5" y2="302" stroke="#ff0000" stroke-width="3.4"/><path d="M1449.6,310.8 L1439,303.6 L1447,298 Z" fill="#ff0000" stroke="#ff0000" stroke-width="0.8" stroke-linejoin="round"/></g><rect x="1364" y="251" width="122" height="15" fill="#00ff00"/><text x="1518" y="271" textLength="111" lengthAdjust="spacing" style='font-family:"Liberation Serif","Noto Serif CJK SC",serif;font-size:21px;font-weight:bold;fill:#00ff00' shape-rendering="auto">多空转折点</text><rect x="2" y="643" width="1" height="1" fill="#c0c0c0"/><rect x="10" y="639" width="1" height="5" fill="#c0c0c0"/><rect x="18" y="636" width="1" height="8" fill="#c0c0c0"/><rect x="26" y="633" width="1" height="11" fill="#c0c0c0"/><rect x="34" y="631" width="1" height="13" fill="#c0c0c0"/><rect x="42" y="632" width="1" height="12" fill="#c0c0c0"/><rect x="50" y="632" width="1" height="12" fill="#c0c0c0"/><rect x="58" y="636" width="1" height="8" fill="#c0c0c0"/><rect x="66" y="641" width="1" height="3" fill="#c0c0c0"/><rect x="74" y="643" width="1" height="12" fill="#c0c0c0"/><rect x="82" y="643" width="1" height="21" fill="#c0c0c0"/><rect x="90" y="643" width="1" height="27" fill="#c0c0c0"/><rect x="98" y="643" width="1" height="34" fill="#c0c0c0"/><rect x="106" y="643" width="1" height="36" fill="#c0c0c0"/><rect x="114" y="643" width="1" height="40" fill="#c0c0c0"/><rect x="122" y="643" width="1" height="44" fill="#c0c0c0"/><rect x="130" y="643" width="1" height="49" fill="#c0c0c0"/><rect x="138" y="643" width="1" height="55" fill="#c0c0c0"/><rect x="146" y="643" width="1" height="58" fill="#c0c0c0"/><rect x="154" y="643" width="1" height="63" fill="#c0c0c0"/><rect x="162" y="643" width="1" height="72" fill="#c0c0c0"/><rect x="170" y="643" width="1" height="74" fill="#c0c0c0"/><rect x="178" y="643" width="1" height="78" fill="#c0c0c0"/><rect x="186" y="643" width="1" height="84" fill="#c0c0c0"/><rect x="194" y="643" width="1" height="89" fill="#c0c0c0"/><rect x="202" y="643" width="1" height="101" fill="#c0c0c0"/><rect x="210" y="643" width="1" height="105" fill="#c0c0c0"/><rect x="218" y="643" width="1" height="105" fill="#c0c0c0"/><rect x="226" y="643" width="1" height="105" fill="#c0c0c0"/><rect x="234" y="643" width="1" height="103" fill="#c0c0c0"/><rect x="242" y="643" width="1" height="94" fill="#c0c0c0"/><rect x="250" y="643" width="1" height="86" fill="#c0c0c0"/><rect x="258" y="643" width="1" height="74" fill="#c0c0c0"/><rect x="266" y="643" width="1" height="60" fill="#c0c0c0"/><rect x="274" y="643" width="1" height="50" fill="#c0c0c0"/><rect x="282" y="643" width="1" height="43" fill="#c0c0c0"/><rect x="290" y="643" width="1" height="37" fill="#c0c0c0"/><rect x="298" y="643" width="1" height="33" fill="#c0c0c0"/><rect x="306" y="643" width="1" height="27" fill="#c0c0c0"/><rect x="314" y="643" width="1" height="25" fill="#c0c0c0"/><rect x="322" y="643" width="1" height="23" fill="#c0c0c0"/><rect x="330" y="643" width="1" height="19" fill="#c0c0c0"/><rect x="338" y="643" width="1" height="15" fill="#c0c0c0"/><rect x="346" y="643" width="1" height="9" fill="#c0c0c0"/><rect x="354" y="643" width="1" height="5" fill="#c0c0c0"/><rect x="362" y="643" width="1" height="1" fill="#c0c0c0"/><rect x="370" y="641" width="1" height="3" fill="#c0c0c0"/><rect x="378" y="638" width="1" height="6" fill="#c0c0c0"/><rect x="386" y="637" width="1" height="7" fill="#c0c0c0"/><rect x="394" y="636" width="1" height="8" fill="#c0c0c0"/><rect x="402" y="636" width="1" height="8" fill="#c0c0c0"/><rect x="410" y="637" width="1" height="7" fill="#c0c0c0"/><rect x="418" y="638" width="1" height="6" fill="#c0c0c0"/><rect x="426" y="643" width="1" height="1" fill="#c0c0c0"/><rect x="434" y="643" width="1" height="3" fill="#c0c0c0"/><rect x="442" y="643" width="1" height="5" fill="#c0c0c0"/><rect x="450" y="643" width="1" height="7" fill="#c0c0c0"/><rect x="458" y="643" width="1" height="8" fill="#c0c0c0"/><rect x="466" y="643" width="1" height="8" fill="#c0c0c0"/><rect x="474" y="643" width="1" height="9" fill="#c0c0c0"/><rect x="482" y="643" width="1" height="10" fill="#c0c0c0"/><rect x="490" y="643" width="1" height="5" fill="#c0c0c0"/><rect x="498" y="643" width="1" height="5" fill="#c0c0c0"/><rect x="506" y="643" width="1" height="6" fill="#c0c0c0"/><rect x="514" y="643" width="1" height="7" fill="#c0c0c0"/><rect x="522" y="643" width="1" height="9" fill="#c0c0c0"/><rect x="530" y="643" width="1" height="14" fill="#c0c0c0"/><rect x="538" y="643" width="1" height="16" fill="#c0c0c0"/><rect x="546" y="643" width="1" height="15" fill="#c0c0c0"/><rect x="554" y="643" width="1" height="14" fill="#c0c0c0"/><rect x="562" y="643" width="1" height="13" fill="#c0c0c0"/><rect x="570" y="643" width="1" height="15" fill="#c0c0c0"/><rect x="578" y="643" width="1" height="18" fill="#c0c0c0"/><rect x="586" y="643" width="1" height="19" fill="#c0c0c0"/><rect x="594" y="643" width="1" height="22" fill="#c0c0c0"/><rect x="602" y="643" width="1" height="26" fill="#c0c0c0"/><rect x="610" y="643" width="1" height="25" fill="#c0c0c0"/><rect x="618" y="643" width="1" height="21" fill="#c0c0c0"/><rect x="626" y="643" width="1" height="19" fill="#c0c0c0"/><rect x="634" y="643" width="1" height="18" fill="#c0c0c0"/><rect x="642" y="643" width="1" height="18" fill="#c0c0c0"/><rect x="650" y="643" width="1" height="17" fill="#c0c0c0"/><rect x="658" y="643" width="1" height="16" fill="#c0c0c0"/><rect x="666" y="643" width="1" height="12" fill="#c0c0c0"/><rect x="674" y="643" width="1" height="10" fill="#c0c0c0"/><rect x="682" y="643" width="1" height="7" fill="#c0c0c0"/><rect x="690" y="643" width="1" height="4" fill="#c0c0c0"/><rect x="698" y="643" width="1" height="1" fill="#c0c0c0"/><rect x="706" y="638" width="1" height="6" fill="#c0c0c0"/><rect x="714" y="628" width="1" height="16" fill="#c0c0c0"/><rect x="722" y="619" width="1" height="25" fill="#c0c0c0"/><rect x="730" y="612" width="1" height="32" fill="#c0c0c0"/><rect x="738" y="603" width="1" height="41" fill="#c0c0c0"/><rect x="746" y="596" width="1" height="48" fill="#c0c0c0"/><rect x="754" y="594" width="1" height="50" fill="#c0c0c0"/><rect x="762" y="595" width="1" height="49" fill="#c0c0c0"/><rect x="770" y="599" width="1" height="45" fill="#c0c0c0"/><rect x="778" y="607" width="1" height="37" fill="#c0c0c0"/><rect x="786" y="614" width="1" height="30" fill="#c0c0c0"/><rect x="794" y="619" width="1" height="25" fill="#c0c0c0"/><rect x="802" y="620" width="1" height="24" fill="#c0c0c0"/><rect x="810" y="623" width="1" height="21" fill="#c0c0c0"/><rect x="818" y="627" width="1" height="17" fill="#c0c0c0"/><rect x="826" y="634" width="1" height="10" fill="#c0c0c0"/><rect x="834" y="641" width="1" height="3" fill="#c0c0c0"/><rect x="842" y="643" width="1" height="6" fill="#c0c0c0"/><rect x="850" y="643" width="1" height="6" fill="#c0c0c0"/><rect x="858" y="643" width="1" height="8" fill="#c0c0c0"/><rect x="866" y="643" width="1" height="9" fill="#c0c0c0"/><rect x="874" y="643" width="1" height="10" fill="#c0c0c0"/><rect x="882" y="643" width="1" height="13" fill="#c0c0c0"/><rect x="890" y="643" width="1" height="14" fill="#c0c0c0"/><rect x="898" y="643" width="1" height="15" fill="#c0c0c0"/><rect x="906" y="643" width="1" height="13" fill="#c0c0c0"/><rect x="914" y="643" width="1" height="11" fill="#c0c0c0"/><rect x="922" y="643" width="1" height="8" fill="#c0c0c0"/><rect x="930" y="643" width="1" height="6" fill="#c0c0c0"/><rect x="938" y="643" width="1" height="4" fill="#c0c0c0"/><rect x="946" y="643" width="1" height="3" fill="#c0c0c0"/><rect x="954" y="642" width="1" height="2" fill="#c0c0c0"/><rect x="962" y="638" width="1" height="6" fill="#c0c0c0"/><rect x="970" y="636" width="1" height="8" fill="#c0c0c0"/><rect x="978" y="635" width="1" height="9" fill="#c0c0c0"/><rect x="986" y="634" width="1" height="10" fill="#c0c0c0"/><rect x="994" y="634" width="1" height="10" fill="#c0c0c0"/><rect x="1002" y="634" width="1" height="10" fill="#c0c0c0"/><rect x="1010" y="635" width="1" height="9" fill="#c0c0c0"/><rect x="1018" y="635" width="1" height="9" fill="#c0c0c0"/><rect x="1026" y="636" width="1" height="8" fill="#c0c0c0"/><rect x="1034" y="636" width="1" height="8" fill="#c0c0c0"/><rect x="1042" y="634" width="1" height="10" fill="#c0c0c0"/><rect x="1050" y="632" width="1" height="12" fill="#c0c0c0"/><rect x="1058" y="629" width="1" height="15" fill="#c0c0c0"/><rect x="1066" y="628" width="1" height="16" fill="#c0c0c0"/><rect x="1074" y="628" width="1" height="16" fill="#c0c0c0"/><rect x="1082" y="629" width="1" height="15" fill="#c0c0c0"/><rect x="1090" y="629" width="1" height="15" fill="#c0c0c0"/><rect x="1098" y="629" width="1" height="15" fill="#c0c0c0"/><rect x="1106" y="628" width="1" height="16" fill="#c0c0c0"/><rect x="1114" y="625" width="1" height="19" fill="#c0c0c0"/><rect x="1122" y="620" width="1" height="24" fill="#c0c0c0"/><rect x="1130" y="616" width="1" height="28" fill="#c0c0c0"/><rect x="1138" y="613" width="1" height="31" fill="#c0c0c0"/><rect x="1146" y="612" width="1" height="32" fill="#c0c0c0"/><rect x="1154" y="611" width="1" height="33" fill="#c0c0c0"/><rect x="1162" y="610" width="1" height="34" fill="#c0c0c0"/><rect x="1170" y="611" width="1" height="33" fill="#c0c0c0"/><rect x="1178" y="612" width="1" height="32" fill="#c0c0c0"/><rect x="1186" y="613" width="1" height="31" fill="#c0c0c0"/><rect x="1194" y="612" width="1" height="32" fill="#c0c0c0"/><rect x="1202" y="611" width="1" height="33" fill="#c0c0c0"/><rect x="1210" y="610" width="1" height="34" fill="#c0c0c0"/><rect x="1218" y="610" width="1" height="34" fill="#c0c0c0"/><rect x="1226" y="610" width="1" height="34" fill="#c0c0c0"/><rect x="1234" y="612" width="1" height="32" fill="#c0c0c0"/><rect x="1242" y="613" width="1" height="31" fill="#c0c0c0"/><rect x="1250" y="615" width="1" height="29" fill="#c0c0c0"/><rect x="1258" y="615" width="1" height="29" fill="#c0c0c0"/><rect x="1266" y="618" width="1" height="26" fill="#c0c0c0"/><rect x="1274" y="621" width="1" height="23" fill="#c0c0c0"/><rect x="1282" y="624" width="1" height="20" fill="#c0c0c0"/><rect x="1290" y="623" width="1" height="21" fill="#c0c0c0"/><rect x="1298" y="622" width="1" height="22" fill="#c0c0c0"/><rect x="1306" y="620" width="1" height="24" fill="#c0c0c0"/><rect x="1314" y="618" width="1" height="26" fill="#c0c0c0"/><rect x="1322" y="617" width="1" height="27" fill="#c0c0c0"/><rect x="1330" y="615" width="1" height="29" fill="#c0c0c0"/><rect x="1338" y="612" width="1" height="32" fill="#c0c0c0"/><rect x="1346" y="611" width="1" height="33" fill="#c0c0c0"/><rect x="1354" y="613" width="1" height="31" fill="#c0c0c0"/><rect x="1362" y="614" width="1" height="30" fill="#c0c0c0"/><rect x="1370" y="616" width="1" height="28" fill="#c0c0c0"/><rect x="1378" y="620" width="1" height="24" fill="#c0c0c0"/><rect x="1386" y="629" width="1" height="15" fill="#c0c0c0"/><rect x="1394" y="635" width="1" height="9" fill="#c0c0c0"/><rect x="1402" y="643" width="1" height="3" fill="#c0c0c0"/><rect x="1410" y="643" width="1" height="11" fill="#c0c0c0"/><rect x="1418" y="643" width="1" height="17" fill="#c0c0c0"/><rect x="1426" y="643" width="1" height="22" fill="#c0c0c0"/><rect x="1434" y="643" width="1" height="25" fill="#c0c0c0"/><path d="M50,637h3v1h-3zM74,637h2v1h-2zM1010,637h3v1h-3zM1426,637h1v1h-1zM105,653h1v1h-1zM376,653h1v1h-1zM560,653h3v1h-3zM566,653h1v1h-1zM698,653h3v1h-3zM908,653h3v1h-3zM914,653h3v1h-3zM920,653h3v1h-3zM926,653h3v1h-3zM932,653h3v1h-3zM788,604h3v1h-3zM794,604h3v1h-3zM56,636h3v1h-3zM62,636h3v1h-3zM68,636h3v1h-3zM862,636h1v1h-1zM1016,636h3v1h-3zM1022,636h1v1h-1zM1424,636h2v1h-2zM98,648h1v1h-1zM388,648h1v1h-1zM488,648h3v1h-3zM494,648h1v1h-1zM712,648h1v1h-1zM890,648h2v1h-2zM962,648h3v1h-3zM832,619h1v1h-1zM1160,619h1v1h-1zM1304,619h3v1h-3zM1310,619h1v1h-1zM1335,619h2v1h-2zM1340,619h3v1h-3zM1396,619h1v1h-1zM112,658h1v1h-1zM364,658h1v1h-1zM591,658h2v1h-2zM596,658h3v1h-3zM680,658h1v1h-1zM116,660h1v1h-1zM608,660h3v1h-3zM614,660h1v1h-1zM669,660h2v1h-2zM158,689h1v1h-1zM315,689h1v1h-1zM2,647h3v1h-3zM392,647h1v1h-1zM482,647h3v1h-3zM968,647h1v1h-1zM32,641h1v1h-1zM86,641h1v1h-1zM410,641h3v1h-3zM447,641h2v1h-2zM452,641h3v1h-3zM872,641h2v1h-2zM992,641h1v1h-1zM1431,641h2v1h-2zM21,643h2v1h-2zM404,643h1v1h-1zM464,643h1v1h-1zM722,643h1v1h-1zM878,643h1v1h-1zM981,643h2v1h-2zM856,633h1v1h-1zM1064,633h3v1h-3zM1070,633h3v1h-3zM1076,633h3v1h-3zM1419,633h2v1h-2zM20,644h1v1h-1zM92,644h1v1h-1zM399,644h2v1h-2zM465,644h2v1h-2zM879,644h2v1h-2zM980,644h1v1h-1zM854,632h2v1h-2zM1082,632h3v1h-3zM1418,632h1v1h-1zM159,690h1v1h-1zM314,690h1v1h-1zM578,655h3v1h-3zM692,655h1v1h-1zM38,639h3v1h-3zM80,639h1v1h-1zM417,639h2v1h-2zM422,639h3v1h-3zM428,639h3v1h-3zM434,639h3v1h-3zM728,639h2v1h-2zM868,639h1v1h-1zM998,639h3v1h-3zM754,620h1v1h-1zM1156,620h1v1h-1zM1311,620h2v1h-2zM1316,620h3v1h-3zM1322,620h3v1h-3zM1328,620h3v1h-3zM1334,620h1v1h-1zM826,615h1v1h-1zM1178,615h3v1h-3zM1280,615h3v1h-3zM1370,615h3v1h-3zM1376,615h3v1h-3zM1382,615h1v1h-1zM14,645h3v1h-3zM93,645h2v1h-2zM398,645h1v1h-1zM470,645h3v1h-3zM718,645h1v1h-1zM974,645h3v1h-3zM99,649h2v1h-2zM386,649h2v1h-2zM495,649h2v1h-2zM500,649h3v1h-3zM506,649h3v1h-3zM512,649h3v1h-3zM518,649h3v1h-3zM524,649h3v1h-3zM710,649h2v1h-2zM892,649h1v1h-1zM957,649h2v1h-2zM844,627h1v1h-1zM1124,627h3v1h-3zM1412,627h1v1h-1zM110,656h1v1h-1zM369,656h2v1h-2zM584,656h1v1h-1zM686,656h3v1h-3zM117,661h1v1h-1zM358,661h1v1h-1zM615,661h2v1h-2zM620,661h3v1h-3zM663,661h2v1h-2zM668,661h1v1h-1zM154,687h1v1h-1zM759,616h2v1h-2zM1172,616h3v1h-3zM1286,616h3v1h-3zM1359,616h2v1h-2zM1364,616h3v1h-3zM1383,616h2v1h-2zM1388,616h1v1h-1zM248,739h3v1h-3zM254,739h1v1h-1zM764,613h1v1h-1zM1185,613h2v1h-2zM1190,613h1v1h-1zM1263,613h2v1h-2zM1268,613h3v1h-3zM26,642h3v1h-3zM87,642h2v1h-2zM405,642h2v1h-2zM458,642h3v1h-3zM723,642h2v1h-2zM874,642h1v1h-1zM986,642h3v1h-3zM742,629h1v1h-1zM848,629h2v1h-2zM1112,629h3v1h-3zM1414,629h1v1h-1zM146,683h2v1h-2zM322,683h1v1h-1zM362,659h2v1h-2zM602,659h3v1h-3zM674,659h3v1h-3zM242,738h3v1h-3zM255,738h2v1h-2zM184,705h1v1h-1zM135,675h2v1h-2zM333,675h2v1h-2zM776,607h1v1h-1zM753,621h1v1h-1zM836,621h1v1h-1zM1154,621h2v1h-2zM1400,621h2v1h-2zM639,663h2v1h-2zM644,663h3v1h-3zM650,663h3v1h-3zM8,646h3v1h-3zM393,646h2v1h-2zM476,646h3v1h-3zM716,646h2v1h-2zM884,646h3v1h-3zM969,646h2v1h-2zM104,652h1v1h-1zM554,652h3v1h-3zM704,652h1v1h-1zM902,652h3v1h-3zM938,652h3v1h-3zM944,652h3v1h-3zM278,726h1v1h-1zM206,719h1v1h-1zM285,719h1v1h-1zM752,622h1v1h-1zM837,622h1v1h-1zM1148,622h3v1h-3zM1402,622h1v1h-1zM818,611h2v1h-2zM1215,611h2v1h-2zM1220,611h3v1h-3zM1226,611h3v1h-3zM1232,611h3v1h-3zM1238,611h1v1h-1zM33,640h2v1h-2zM81,640h2v1h-2zM416,640h1v1h-1zM440,640h3v1h-3zM446,640h1v1h-1zM993,640h2v1h-2zM1430,640h1v1h-1zM188,707h1v1h-1zM297,707h1v1h-1zM207,720h1v1h-1zM284,720h1v1h-1zM734,635h1v1h-1zM860,635h2v1h-2zM1023,635h2v1h-2zM1028,635h3v1h-3zM1034,635h3v1h-3zM1040,635h3v1h-3zM1046,635h3v1h-3zM1052,635h3v1h-3zM380,651h3v1h-3zM536,651h3v1h-3zM542,651h3v1h-3zM548,651h3v1h-3zM705,651h2v1h-2zM897,651h2v1h-2zM950,651h3v1h-3zM765,612h2v1h-2zM820,612h1v1h-1zM1191,612h2v1h-2zM1196,612h3v1h-3zM1202,612h3v1h-3zM1208,612h3v1h-3zM1214,612h1v1h-1zM1239,612h2v1h-2zM1244,612h3v1h-3zM1250,612h3v1h-3zM1256,612h3v1h-3zM1262,612h1v1h-1zM782,605h3v1h-3zM800,605h3v1h-3zM741,630h1v1h-1zM850,630h1v1h-1zM1106,630h3v1h-3zM172,698h1v1h-1zM202,717h1v1h-1zM230,734h2v1h-2zM267,734h2v1h-2zM1118,628h3v1h-3zM1413,628h1v1h-1zM106,654h1v1h-1zM374,654h2v1h-2zM567,654h2v1h-2zM572,654h3v1h-3zM693,654h2v1h-2zM747,625h2v1h-2zM1136,625h1v1h-1zM1408,625h1v1h-1zM128,669h1v1h-1zM344,669h2v1h-2zM758,617h1v1h-1zM830,617h1v1h-1zM1166,617h3v1h-3zM1292,617h3v1h-3zM1352,617h3v1h-3zM1358,617h1v1h-1zM1389,617h2v1h-2zM232,735h1v1h-1zM266,735h1v1h-1zM142,680h1v1h-1zM326,680h1v1h-1zM224,731h2v1h-2zM272,731h1v1h-1zM530,650h3v1h-3zM896,650h1v1h-1zM956,650h1v1h-1zM309,695h1v1h-1zM44,638h3v1h-3zM76,638h1v1h-1zM730,638h1v1h-1zM866,638h2v1h-2zM1004,638h3v1h-3zM740,631h1v1h-1zM1088,631h3v1h-3zM1094,631h3v1h-3zM1100,631h3v1h-3zM735,634h2v1h-2zM1058,634h3v1h-3zM220,729h1v1h-1zM274,729h1v1h-1zM118,662h1v1h-1zM356,662h2v1h-2zM626,662h3v1h-3zM632,662h3v1h-3zM638,662h1v1h-1zM656,662h3v1h-3zM662,662h1v1h-1zM824,614h2v1h-2zM1184,614h1v1h-1zM1274,614h3v1h-3zM831,618h1v1h-1zM1161,618h2v1h-2zM1298,618h3v1h-3zM1346,618h3v1h-3zM1394,618h2v1h-2zM838,623h1v1h-1zM1142,623h3v1h-3zM176,700h2v1h-2zM304,700h1v1h-1zM772,608h1v1h-1zM812,608h2v1h-2zM160,691h1v1h-1zM320,685h1v1h-1zM777,606h2v1h-2zM806,606h3v1h-3zM164,693h1v1h-1zM123,666h2v1h-2zM350,666h1v1h-1zM111,657h1v1h-1zM368,657h1v1h-1zM585,657h2v1h-2zM590,657h1v1h-1zM681,657h2v1h-2zM273,730h1v1h-1zM194,711h1v1h-1zM746,626h1v1h-1zM842,626h2v1h-2zM1130,626h3v1h-3zM134,674h1v1h-1zM141,679h1v1h-1zM327,679h2v1h-2zM1137,624h2v1h-2zM1406,624h2v1h-2zM332,676h1v1h-1zM213,724h1v1h-1zM280,724h1v1h-1zM237,737h2v1h-2zM260,737h3v1h-3zM308,696h1v1h-1zM152,686h2v1h-2zM208,721h1v1h-1zM770,609h2v1h-2zM814,609h1v1h-1zM148,684h1v1h-1zM321,684h1v1h-1zM189,708h2v1h-2zM296,708h1v1h-1zM212,723h1v1h-1zM346,668h1v1h-1zM178,701h1v1h-1zM303,701h1v1h-1zM129,670h1v1h-1zM291,713h1v1h-1zM338,672h2v1h-2zM218,728h2v1h-2zM170,697h2v1h-2zM352,664h1v1h-1zM236,736h1v1h-1zM165,694h2v1h-2zM310,694h1v1h-1zM214,725h1v1h-1zM279,725h1v1h-1zM140,678h1v1h-1zM298,706h1v1h-1zM226,732h1v1h-1zM130,671h1v1h-1zM340,671h1v1h-1zM200,715h1v1h-1zM286,718h1v1h-1zM195,712h2v1h-2zM292,712h1v1h-1zM302,702h1v1h-1zM290,714h1v1h-1zM182,703h1v1h-1zM183,704h1v1h-1zM122,665h1v1h-1zM351,665h1v1h-1zM201,716h1v1h-1zM316,688h1v1h-1z" fill="#ff0000"/><line x1="1" y1="793.5" x2="1686" y2="793.5" stroke="#c0c0c0" stroke-width="1" stroke-dasharray="3,3"/><line x1="1" y1="844.5" x2="1686" y2="844.5" stroke="#c0c0c0" stroke-width="1" stroke-dasharray="3,3"/><line x1="1" y1="905.5" x2="1686" y2="905.5" stroke="#c0c0c0" stroke-width="1" stroke-dasharray="3,3"/><path d="M1039,829v2h1v-2zM1400,870v2h1v-2zM36,829v2h1v-2zM202,897v2h1v-2zM241,861v2h1v-2zM1287,827v2h1v-2zM1377,841v2h1v-2zM237,869v2h1v-2zM1259,821v2h1v-2zM902,849v2h1v-2zM73,881v2h1v-2zM1260,823v2h1v-2zM495,840v2h1v-2zM712,810v2h1v-2zM754,812v2h1v-2zM51,839v2h1v-2zM758,818v2h1v-2zM772,837v2h1v-2zM1286,829v2h1v-2zM776,843v2h1v-2zM1373,834v2h1v-2zM567,855v2h1v-2zM1282,837v2h1v-2zM1390,863v2h1v-2zM1380,848v3h1v-3zM747,798v2h1v-2zM1383,858v3h1v-3zM750,804v2h1v-2zM487,837v3h1v-3zM65,862v2h1v-2zM68,868v3h1v-3zM612,852v2h1v-2zM165,886v2h1v-2zM1350,817v3h1v-3zM1258,819v2h1v-2zM7,835v2h1v-2zM1041,825v2h1v-2zM1265,835v2h1v-2zM425,858v2h1v-2zM699,833v2h1v-2zM53,843v2h1v-2zM56,848v2h1v-2zM764,826v2h1v-2zM771,835v2h1v-2zM774,840v2h1v-2zM1371,830v2h1v-2zM206,889v2h1v-2zM1113,812v2h1v-2zM607,860v2h1v-2zM1036,835v2h1v-2zM846,855v2h1v-2zM66,864v2h1v-2zM3,845v2h1v-2zM67,866v2h1v-2zM1348,812v3h1v-3zM796,844v2h1v-2zM602,870v2h1v-2zM709,816v2h1v-2zM1035,837v2h1v-2zM845,857v2h1v-2zM40,837v2h1v-2zM2,847v2h1v-2zM10,828v2h1v-2zM252,855v2h1v-2zM496,842v2h1v-2zM795,846v2h1v-2zM1229,814v2h1v-2zM484,846v2h1v-2zM708,818v2h1v-2zM209,883v2h1v-2zM1395,860v2h1v-2zM72,878v3h1v-3zM9,830v2h1v-2zM1107,820v2h1v-2zM616,847v2h1v-2zM39,835v2h1v-2zM483,848v3h1v-3zM482,851v2h1v-2zM1118,805v2h1v-2zM1379,845v3h1v-3zM208,885v2h1v-2zM703,827v2h1v-2zM497,844v2h1v-2zM204,893v2h1v-2zM1228,812v2h1v-2zM588,860v2h1v-2zM592,865v2h1v-2zM238,867v2h1v-2zM105,868v2h1v-2zM801,836v2h1v-2zM569,858v2h1v-2zM527,862v2h1v-2zM606,862v2h1v-2zM490,830v2h1v-2zM1401,872v2h1v-2zM1385,864v3h1v-3zM749,802v2h1v-2zM169,879v2h1v-2zM70,873v3h1v-3zM104,870v2h1v-2zM1352,822v3h1v-3zM800,838v2h1v-2zM1261,825v3h1v-3zM100,878v2h1v-2zM55,846v2h1v-2zM59,853v2h1v-2zM777,845v2h1v-2zM168,881v2h1v-2zM236,871v2h1v-2zM256,850v2h1v-2zM529,865v2h1v-2zM492,834v2h1v-2zM164,888v2h1v-2zM419,848v2h1v-2zM1384,861v3h1v-3zM99,880v2h1v-2zM751,806v2h1v-2zM163,890v2h1v-2zM1266,837v2h1v-2zM662,844v2h1v-2zM57,850v2h1v-2zM761,822v2h1v-2zM1372,832v2h1v-2zM1110,816v2h1v-2zM196,890v2h1v-2zM1231,818v2h1v-2zM74,883v2h1v-2zM1397,864v2h1v-2zM710,814v2h1v-2zM63,859v2h1v-2zM41,839v2h1v-2zM1381,851v3h1v-3zM1230,816v2h1v-2zM701,830v2h1v-2zM849,849v2h1v-2zM1347,810v2h1v-2zM563,849v2h1v-2zM1115,809v2h1v-2zM1262,828v2h1v-2zM498,846v2h1v-2zM1289,823v2h1v-2zM1038,831v2h1v-2zM35,827v2h1v-2zM900,852v2h1v-2zM798,841v2h1v-2zM1386,867v2h1v-2zM203,895v2h1v-2zM753,810v2h1v-2zM1288,825v2h1v-2zM711,812v2h1v-2zM1037,833v2h1v-2zM707,820v2h1v-2zM565,852v2h1v-2zM1163,807v2h1v-2zM899,854v2h1v-2zM34,825v2h1v-2zM37,831v2h1v-2zM706,822v2h1v-2zM1378,843v2h1v-2zM493,836v2h1v-2zM420,850v2h1v-2zM752,808v2h1v-2zM6,837v3h1v-3zM1233,822v2h1v-2zM69,871v2h1v-2zM1351,820v2h1v-2zM705,824v2h1v-2zM609,856v2h1v-2zM1399,868v2h1v-2zM848,851v2h1v-2zM605,864v2h1v-2zM5,840v2h1v-2zM61,856v2h1v-2zM240,863v2h1v-2zM1376,839v2h1v-2zM905,844v2h1v-2zM491,832v2h1v-2zM608,858v2h1v-2zM103,872v2h1v-2zM422,853v2h1v-2zM665,840v2h1v-2zM847,853v2h1v-2zM604,866v2h1v-2zM4,842v3h1v-3zM1232,820v2h1v-2zM1285,831v2h1v-2zM904,846v2h1v-2zM746,796v2h1v-2zM486,840v3h1v-3zM1349,815v2h1v-2zM1284,833v2h1v-2zM523,856v2h1v-2zM1264,833v2h1v-2zM424,856v2h1v-2zM1140,803v2h1v-2zM485,843v3h1v-3zM1121,801v2h1v-2zM1169,815v2h1v-2zM1396,862v2h1v-2zM489,832v3h1v-3zM1040,827v2h1v-2zM755,814v2h1v-2zM525,859v2h1v-2zM1354,827v2h1v-2zM205,891v2h1v-2zM1263,830v3h1v-3zM713,808v2h1v-2zM844,859v2h1v-2zM239,865v2h1v-2zM494,838v2h1v-2zM768,831v2h1v-2zM843,861v2h1v-2zM1346,808v2h1v-2zM71,876v2h1v-2zM1353,825v2h1v-2zM234,875v2h1v-2zM8,832v3h1v-3zM1144,808v2h1v-2zM200,895v2h1v-2zM38,833v2h1v-2zM1283,835v2h1v-2zM1375,837v2h1v-2zM207,887v2h1v-2zM1382,854v4h1v-4zM52,841v2h1v-2zM1166,811v2h1v-2zM748,800v2h1v-2zM659,848v2h1v-2zM488,835v2h1v-2zM167,883v2h1v-2zM1398,866v2h1v-2zM235,873v2h1v-2zM102,874v2h1v-2zM603,868v2h1v-2zM101,876v2h1v-2zM142,881v2h1v-2zM1227,810v2h1v-2zM89,877h1v1h-1zM91,877h2v1h-2zM124,877h2v1h-2zM146,877h1v1h-1zM218,877h3v1h-3zM231,877h2v1h-2zM956,831h2v1h-2zM973,831h4v1h-4zM1073,831h1v1h-1zM1087,831h5v1h-5zM258,848h1v1h-1zM294,848h2v1h-2zM300,848h1v1h-1zM313,848h1v1h-1zM324,848h2v1h-2zM500,848h2v1h-2zM553,848h10v1h-10zM624,848h2v1h-2zM783,848h12v1h-12zM817,848h1v1h-1zM850,848h2v1h-2zM903,848h1v1h-1zM346,835h19v1h-19zM375,835h2v1h-2zM380,835h2v1h-2zM695,835h4v1h-4zM802,835h1v1h-1zM951,835h1v1h-1zM989,835h2v1h-2zM745,796h1v1h-1zM263,843h1v1h-1zM272,843h2v1h-2zM306,843h1v1h-1zM334,843h2v1h-2zM413,843h1v1h-1zM663,843h1v1h-1zM674,843h1v1h-1zM797,843h1v1h-1zM812,843h1v1h-1zM906,843h11v1h-11zM1026,843h2v1h-2zM1114,811h1v1h-1zM1146,811h2v1h-2zM1192,811h2v1h-2zM1325,811h2v1h-2zM260,846h1v1h-1zM287,846h5v1h-5zM303,846h1v1h-1zM310,846h1v1h-1zM328,846h2v1h-2zM417,846h1v1h-1zM617,846h1v1h-1zM620,846h2v1h-2zM661,846h1v1h-1zM815,846h1v1h-1zM47,839h2v1h-2zM341,839h1v1h-1zM396,839h2v1h-2zM666,839h2v1h-2zM680,839h2v1h-2zM773,839h1v1h-1zM807,839h2v1h-2zM935,839h8v1h-8zM947,839h1v1h-1zM1009,839h4v1h-4zM1021,839h1v1h-1zM1034,839h1v1h-1zM1054,819h2v1h-2zM1060,819h1v1h-1zM1108,819h1v1h-1zM1177,819h2v1h-2zM1241,819h1v1h-1zM1243,819h1v1h-1zM1301,819h1v1h-1zM88,878h1v1h-1zM93,878h1v1h-1zM126,878h2v1h-2zM145,878h1v1h-1zM147,878h1v1h-1zM170,878h2v1h-2zM216,878h2v1h-2zM221,878h4v1h-4zM228,878h3v1h-3zM137,885h1v1h-1zM139,885h1v1h-1zM155,885h1v1h-1zM166,885h1v1h-1zM183,885h1v1h-1zM21,823h2v1h-2zM31,823h1v1h-1zM1044,823h3v1h-3zM1064,823h1v1h-1zM1105,823h1v1h-1zM1235,823h2v1h-2zM1247,823h1v1h-1zM1253,823h2v1h-2zM1111,815h1v1h-1zM1184,815h2v1h-2zM1305,815h1v1h-1zM1309,815h4v1h-4zM1317,815h4v1h-4zM251,857h1v1h-1zM432,857h2v1h-2zM449,857h3v1h-3zM540,857h1v1h-1zM568,857h1v1h-1zM826,857h1v1h-1zM882,857h13v1h-13zM113,872h1v1h-1zM1417,872h6v1h-6zM1431,872h4v1h-4zM242,860h3v1h-3zM426,860h2v1h-2zM537,860h1v1h-1zM570,860h2v1h-2zM583,860h2v1h-2zM831,860h1v1h-1zM1393,860h1v1h-1zM44,840h3v1h-3zM266,840h2v1h-2zM339,840h2v1h-2zM398,840h2v1h-2zM668,840h2v1h-2zM679,840h1v1h-1zM799,840h1v1h-1zM809,840h1v1h-1zM927,840h8v1h-8zM943,840h4v1h-4zM1022,840h1v1h-1zM1032,840h2v1h-2zM727,805h2v1h-2zM1141,805h1v1h-1zM1204,805h2v1h-2zM1213,805h1v1h-1zM1337,805h3v1h-3zM54,845h1v1h-1zM261,845h1v1h-1zM279,845h8v1h-8zM304,845h1v1h-1zM309,845h1v1h-1zM330,845h2v1h-2zM415,845h2v1h-2zM618,845h2v1h-2zM814,845h1v1h-1zM724,806h3v1h-3zM1142,806h1v1h-1zM1161,806h2v1h-2zM1202,806h2v1h-2zM1214,806h1v1h-1zM1333,806h4v1h-4zM1340,806h3v1h-3zM700,832h1v1h-1zM954,832h2v1h-2zM977,832h6v1h-6zM1074,832h13v1h-13zM254,853h1v1h-1zM460,853h2v1h-2zM471,853h1v1h-1zM479,853h2v1h-2zM513,853h4v1h-4zM544,853h1v1h-1zM639,853h1v1h-1zM646,853h2v1h-2zM822,853h1v1h-1zM863,853h2v1h-2zM868,853h3v1h-3zM877,853h1v1h-1zM119,875h2v1h-2zM1407,875h5v1h-5zM345,836h1v1h-1zM365,836h4v1h-4zM372,836h3v1h-3zM382,836h2v1h-2zM689,836h6v1h-6zM803,836h2v1h-2zM950,836h1v1h-1zM991,836h1v1h-1zM1001,836h3v1h-3zM1374,836h1v1h-1zM257,849h1v1h-1zM296,849h2v1h-2zM299,849h1v1h-1zM314,849h10v1h-10zM502,849h2v1h-2zM551,849h2v1h-2zM615,849h1v1h-1zM626,849h5v1h-5zM818,849h1v1h-1zM852,849h3v1h-3zM767,830h1v1h-1zM958,830h2v1h-2zM969,830h4v1h-4zM1072,830h1v1h-1zM1092,830h3v1h-3zM264,842h1v1h-1zM270,842h2v1h-2zM336,842h2v1h-2zM402,842h5v1h-5zM411,842h2v1h-2zM664,842h1v1h-1zM672,842h2v1h-2zM675,842h2v1h-2zM775,842h1v1h-1zM811,842h1v1h-1zM917,842h4v1h-4zM1025,842h1v1h-1zM1028,842h2v1h-2zM90,876h1v1h-1zM121,876h3v1h-3zM233,876h1v1h-1zM434,856h3v1h-3zM447,856h2v1h-2zM452,856h3v1h-3zM541,856h1v1h-1zM825,856h1v1h-1zM881,856h1v1h-1zM895,856h4v1h-4zM26,820h1v1h-1zM759,820h1v1h-1zM1052,820h2v1h-2zM1061,820h1v1h-1zM1239,820h2v1h-2zM1244,820h1v1h-1zM1257,820h1v1h-1zM1300,820h1v1h-1zM757,817h1v1h-1zM1058,817h1v1h-1zM1170,817h3v1h-3zM1181,817h2v1h-2zM1303,817h1v1h-1zM87,879h1v1h-1zM94,879h1v1h-1zM128,879h2v1h-2zM144,879h1v1h-1zM148,879h1v1h-1zM172,879h2v1h-2zM215,879h1v1h-1zM225,879h3v1h-3zM111,871h2v1h-2zM601,871h1v1h-1zM11,828h1v1h-1zM765,828h1v1h-1zM962,828h3v1h-3zM1069,828h2v1h-2zM1097,828h2v1h-2zM1355,828h1v1h-1zM1368,828h2v1h-2zM343,837h2v1h-2zM369,837h3v1h-3zM384,837h2v1h-2zM685,837h4v1h-4zM805,837h1v1h-1zM949,837h1v1h-1zM992,837h2v1h-2zM997,837h4v1h-4zM1004,837h3v1h-3zM1017,837h2v1h-2zM259,847h1v1h-1zM292,847h2v1h-2zM301,847h2v1h-2zM311,847h2v1h-2zM326,847h2v1h-2zM418,847h1v1h-1zM499,847h1v1h-1zM622,847h2v1h-2zM660,847h1v1h-1zM778,847h5v1h-5zM816,847h1v1h-1zM702,829h1v1h-1zM766,829h1v1h-1zM960,829h2v1h-2zM965,829h4v1h-4zM1071,829h1v1h-1zM1095,829h2v1h-2zM1370,829h1v1h-1zM253,854h1v1h-1zM441,854h3v1h-3zM457,854h3v1h-3zM472,854h2v1h-2zM476,854h3v1h-3zM517,854h4v1h-4zM543,854h1v1h-1zM566,854h1v1h-1zM611,854h1v1h-1zM640,854h2v1h-2zM644,854h2v1h-2zM823,854h1v1h-1zM865,854h3v1h-3zM878,854h1v1h-1zM534,863h1v1h-1zM576,863h2v1h-2zM579,863h2v1h-2zM590,863h1v1h-1zM839,863h4v1h-4zM114,873h2v1h-2zM1415,873h2v1h-2zM1423,873h8v1h-8zM1056,818h2v1h-2zM1059,818h1v1h-1zM1109,818h1v1h-1zM1173,818h4v1h-4zM1179,818h2v1h-2zM1242,818h1v1h-1zM1302,818h1v1h-1zM58,852h1v1h-1zM255,852h1v1h-1zM421,852h1v1h-1zM462,852h2v1h-2zM469,852h2v1h-2zM481,852h1v1h-1zM509,852h4v1h-4zM545,852h1v1h-1zM637,852h2v1h-2zM648,852h2v1h-2zM821,852h1v1h-1zM860,852h3v1h-3zM871,852h2v1h-2zM875,852h2v1h-2zM12,827h3v1h-3zM1068,827h1v1h-1zM1099,827h2v1h-2zM1356,827h2v1h-2zM1367,827h1v1h-1zM528,864h1v1h-1zM533,864h1v1h-1zM578,864h1v1h-1zM591,864h1v1h-1zM1116,808h1v1h-1zM1153,808h4v1h-4zM1198,808h2v1h-2zM1216,808h1v1h-1zM1329,808h1v1h-1zM1345,808h1v1h-1zM298,850h1v1h-1zM466,850h1v1h-1zM504,850h2v1h-2zM548,850h3v1h-3zM614,850h1v1h-1zM631,850h4v1h-4zM655,850h4v1h-4zM819,850h1v1h-1zM855,850h2v1h-2zM116,874h3v1h-3zM1402,874h5v1h-5zM1412,874h3v1h-3zM106,867h1v1h-1zM530,867h1v1h-1zM593,867h1v1h-1zM1387,867h1v1h-1zM49,838h2v1h-2zM342,838h1v1h-1zM386,838h10v1h-10zM682,838h3v1h-3zM806,838h1v1h-1zM948,838h1v1h-1zM994,838h3v1h-3zM1007,838h2v1h-2zM1013,838h4v1h-4zM1019,838h2v1h-2zM1267,838h15v1h-15zM1151,809h2v1h-2zM1164,809h1v1h-1zM1196,809h2v1h-2zM1217,809h1v1h-1zM1223,809h4v1h-4zM1328,809h1v1h-1zM733,802h2v1h-2zM1139,802h1v1h-1zM1210,802h1v1h-1zM110,870h1v1h-1zM599,870h2v1h-2zM62,858h1v1h-1zM249,858h2v1h-2zM430,858h2v1h-2zM524,858h1v1h-1zM539,858h1v1h-1zM586,858h1v1h-1zM827,858h2v1h-2zM23,822h1v1h-1zM29,822h2v1h-2zM1047,822h2v1h-2zM1063,822h1v1h-1zM1106,822h1v1h-1zM1237,822h1v1h-1zM1246,822h1v1h-1zM1255,822h1v1h-1zM1290,822h9v1h-9zM86,880h1v1h-1zM95,880h2v1h-2zM130,880h1v1h-1zM143,880h1v1h-1zM149,880h2v1h-2zM174,880h2v1h-2zM213,880h2v1h-2zM1167,813h1v1h-1zM1188,813h2v1h-2zM1323,813h1v1h-1zM24,821h2v1h-2zM27,821h2v1h-2zM760,821h1v1h-1zM1049,821h3v1h-3zM1062,821h1v1h-1zM1238,821h1v1h-1zM1245,821h1v1h-1zM1256,821h1v1h-1zM1299,821h1v1h-1zM75,884h8v1h-8zM135,884h2v1h-2zM140,884h1v1h-1zM154,884h1v1h-1zM181,884h2v1h-2zM736,800h2v1h-2zM1122,800h13v1h-13zM15,826h2v1h-2zM704,826h1v1h-1zM1067,826h1v1h-1zM1101,826h1v1h-1zM1250,826h1v1h-1zM1358,826h2v1h-2zM1365,826h2v1h-2zM714,807h10v1h-10zM1117,807h1v1h-1zM1143,807h1v1h-1zM1157,807h4v1h-4zM1200,807h2v1h-2zM1215,807h1v1h-1zM1330,807h3v1h-3zM1343,807h2v1h-2zM42,841h2v1h-2zM265,841h1v1h-1zM268,841h2v1h-2zM338,841h1v1h-1zM400,841h2v1h-2zM407,841h4v1h-4zM670,841h2v1h-2zM677,841h2v1h-2zM810,841h1v1h-1zM921,841h6v1h-6zM1023,841h2v1h-2zM1030,841h2v1h-2zM464,851h2v1h-2zM467,851h2v1h-2zM506,851h3v1h-3zM546,851h2v1h-2zM564,851h1v1h-1zM613,851h1v1h-1zM635,851h2v1h-2zM650,851h5v1h-5zM820,851h1v1h-1zM857,851h3v1h-3zM873,851h2v1h-2zM901,851h1v1h-1zM85,881h1v1h-1zM97,881h1v1h-1zM131,881h2v1h-2zM151,881h1v1h-1zM176,881h2v1h-2zM211,881h2v1h-2zM756,816h1v1h-1zM1183,816h1v1h-1zM1304,816h1v1h-1zM1313,816h4v1h-4zM729,804h2v1h-2zM1119,804h1v1h-1zM1206,804h2v1h-2zM1212,804h1v1h-1zM743,797h2v1h-2zM17,825h2v1h-2zM763,825h1v1h-1zM1066,825h1v1h-1zM1102,825h1v1h-1zM1249,825h1v1h-1zM1251,825h1v1h-1zM1360,825h2v1h-2zM1363,825h2v1h-2zM19,824h2v1h-2zM32,824h2v1h-2zM762,824h1v1h-1zM1042,824h2v1h-2zM1065,824h1v1h-1zM1103,824h2v1h-2zM1234,824h1v1h-1zM1248,824h1v1h-1zM1252,824h1v1h-1zM1362,824h1v1h-1zM60,855h1v1h-1zM423,855h1v1h-1zM437,855h4v1h-4zM444,855h3v1h-3zM455,855h2v1h-2zM474,855h2v1h-2zM521,855h2v1h-2zM542,855h1v1h-1zM610,855h1v1h-1zM642,855h2v1h-2zM824,855h1v1h-1zM879,855h2v1h-2zM157,887h1v1h-1zM186,887h5v1h-5zM731,803h2v1h-2zM1120,803h1v1h-1zM1208,803h2v1h-2zM1211,803h1v1h-1zM245,859h4v1h-4zM428,859h2v1h-2zM538,859h1v1h-1zM585,859h1v1h-1zM587,859h1v1h-1zM829,859h2v1h-2zM1394,859h1v1h-1zM1145,810h1v1h-1zM1148,810h3v1h-3zM1165,810h1v1h-1zM1194,810h2v1h-2zM1218,810h5v1h-5zM1327,810h1v1h-1zM262,844h1v1h-1zM274,844h5v1h-5zM305,844h1v1h-1zM307,844h2v1h-2zM332,844h2v1h-2zM414,844h1v1h-1zM813,844h1v1h-1zM109,869h1v1h-1zM596,869h3v1h-3zM531,866h1v1h-1zM1388,866h1v1h-1zM738,799h2v1h-2zM535,862h1v1h-1zM574,862h2v1h-2zM581,862h1v1h-1zM589,862h1v1h-1zM834,862h5v1h-5zM1391,862h1v1h-1zM1190,812h2v1h-2zM1324,812h1v1h-1zM158,888h1v1h-1zM191,888h4v1h-4zM740,798h3v1h-3zM1112,814h1v1h-1zM1168,814h1v1h-1zM1186,814h2v1h-2zM1306,814h3v1h-3zM1321,814h2v1h-2zM83,883h1v1h-1zM134,883h1v1h-1zM141,883h1v1h-1zM153,883h1v1h-1zM179,883h2v1h-2zM532,865h1v1h-1zM1389,865h1v1h-1zM735,801h1v1h-1zM1135,801h4v1h-4zM377,834h3v1h-3zM770,834h1v1h-1zM952,834h1v1h-1zM987,834h2v1h-2zM107,868h2v1h-2zM594,868h2v1h-2zM64,861h1v1h-1zM526,861h1v1h-1zM536,861h1v1h-1zM572,861h2v1h-2zM582,861h1v1h-1zM832,861h2v1h-2zM1392,861h1v1h-1zM198,893h1v1h-1zM138,886h1v1h-1zM156,886h1v1h-1zM184,886h2v1h-2zM769,833h1v1h-1zM953,833h1v1h-1zM983,833h4v1h-4zM84,882h1v1h-1zM98,882h1v1h-1zM133,882h1v1h-1zM152,882h1v1h-1zM178,882h1v1h-1zM210,882h1v1h-1zM159,889h1v1h-1zM195,889h1v1h-1zM160,890h1v1h-1zM161,891h1v1h-1zM199,894h1v1h-1zM201,897h1v1h-1zM162,892h1v1h-1zM197,892h1v1h-1z" fill="#1e90ff"/><rect x="1688" y="52" width="2" height="1" fill="#000"/><text x="1693" y="56" style='font-family:"Liberation Sans",sans-serif;font-size:10px;letter-spacing:-0.40px;white-space:pre' fill="#000" shape-rendering="auto">145.160</text><rect x="1688" y="85" width="2" height="1" fill="#000"/><text x="1693" y="89" style='font-family:"Liberation Sans",sans-serif;font-size:10px;letter-spacing:-0.40px;white-space:pre' fill="#000" shape-rendering="auto">143.800</text><rect x="1688" y="118" width="2" height="1" fill="#000"/><text x="1693" y="122" style='font-family:"Liberation Sans",sans-serif;font-size:10px;letter-spacing:-0.40px;white-space:pre' fill="#000" shape-rendering="auto">142.480</text><rect x="1688" y="151" width="2" height="1" fill="#000"/><text x="1693" y="155" style='font-family:"Liberation Sans",sans-serif;font-size:10px;letter-spacing:-0.40px;white-space:pre' fill="#000" shape-rendering="auto">141.120</text><rect x="1688" y="184" width="2" height="1" fill="#000"/><text x="1693" y="188" style='font-family:"Liberation Sans",sans-serif;font-size:10px;letter-spacing:-0.40px;white-space:pre' fill="#000" shape-rendering="auto">139.760</text><rect x="1688" y="217" width="2" height="1" fill="#000"/><text x="1693" y="221" style='font-family:"Liberation Sans",sans-serif;font-size:10px;letter-spacing:-0.40px;white-space:pre' fill="#000" shape-rendering="auto">138.440</text><rect x="1688" y="250" width="2" height="1" fill="#000"/><text x="1693" y="254" style='font-family:"Liberation Sans",sans-serif;font-size:10px;letter-spacing:-0.40px;white-space:pre' fill="#000" shape-rendering="auto">137.080</text><rect x="1688" y="283" width="2" height="1" fill="#000"/><text x="1693" y="287" style='font-family:"Liberation Sans",sans-serif;font-size:10px;letter-spacing:-0.40px;white-space:pre' fill="#000" shape-rendering="auto">135.760</text><rect x="1688" y="316" width="2" height="1" fill="#000"/><text x="1693" y="320" style='font-family:"Liberation Sans",sans-serif;font-size:10px;letter-spacing:-0.40px;white-space:pre' fill="#000" shape-rendering="auto">134.400</text><rect x="1688" y="349" width="2" height="1" fill="#000"/><text x="1693" y="353" style='font-family:"Liberation Sans",sans-serif;font-size:10px;letter-spacing:-0.40px;white-space:pre' fill="#000" shape-rendering="auto">133.040</text><rect x="1688" y="383" width="2" height="1" fill="#000"/><text x="1693" y="387" style='font-family:"Liberation Sans",sans-serif;font-size:10px;letter-spacing:-0.40px;white-space:pre' fill="#000" shape-rendering="auto">131.680</text><rect x="1688" y="415" width="2" height="1" fill="#000"/><text x="1693" y="419" style='font-family:"Liberation Sans",sans-serif;font-size:10px;letter-spacing:-0.40px;white-space:pre' fill="#000" shape-rendering="auto">130.360</text><rect x="1688" y="448" width="2" height="1" fill="#000"/><text x="1693" y="452" style='font-family:"Liberation Sans",sans-serif;font-size:10px;letter-spacing:-0.40px;white-space:pre' fill="#000" shape-rendering="auto">129.000</text><rect x="1688" y="482" width="2" height="1" fill="#000"/><text x="1693" y="486" style='font-family:"Liberation Sans",sans-serif;font-size:10px;letter-spacing:-0.40px;white-space:pre' fill="#000" shape-rendering="auto">127.640</text><rect x="1688" y="514" width="2" height="1" fill="#000"/><text x="1693" y="518" style='font-family:"Liberation Sans",sans-serif;font-size:10px;letter-spacing:-0.40px;white-space:pre' fill="#000" shape-rendering="auto">126.320</text><rect x="1688" y="548" width="2" height="1" fill="#000"/><text x="1693" y="552" style='font-family:"Liberation Sans",sans-serif;font-size:10px;letter-spacing:-0.40px;white-space:pre' fill="#000" shape-rendering="auto">124.960</text><rect x="1688" y="580" width="2" height="1" fill="#000"/><text x="1693" y="584" style='font-family:"Liberation Sans",sans-serif;font-size:10px;letter-spacing:-0.40px;white-space:pre' fill="#000" shape-rendering="auto">123.640</text><rect x="1689" y="208" width="41" height="11" fill="#ff0000"/><text x="1693" y="218" style='font-family:"Liberation Sans",sans-serif;font-size:10px;letter-spacing:-0.40px;white-space:pre' fill="#fff" shape-rendering="auto">138.541</text><rect x="1689" y="233" width="41" height="11" fill="#ff0000"/><text x="1693" y="243" style='font-family:"Liberation Sans",sans-serif;font-size:10px;letter-spacing:-0.40px;white-space:pre' fill="#fff" shape-rendering="auto">137.523</text><rect x="1689" y="254" width="41" height="11" fill="#32cd32"/><text x="1693" y="264" style='font-family:"Liberation Sans",sans-serif;font-size:10px;letter-spacing:-0.40px;white-space:pre' fill="#fff" shape-rendering="auto">136.668</text><rect x="1689" y="274" width="41" height="11" fill="#000000"/><text x="1693" y="284" style='font-family:"Liberation Sans",sans-serif;font-size:10px;letter-spacing:-0.40px;white-space:pre' fill="#fff" shape-rendering="auto">135.876</text><rect x="1689" y="300" width="41" height="11" fill="#0000ff"/><text x="1693" y="310" style='font-family:"Liberation Sans",sans-serif;font-size:10px;letter-spacing:-0.40px;white-space:pre' fill="#fff" shape-rendering="auto">134.796</text><rect x="1689" y="320" width="41" height="11" fill="#0000ff"/><text x="1693" y="330" style='font-family:"Liberation Sans",sans-serif;font-size:10px;letter-spacing:-0.40px;white-space:pre' fill="#fff" shape-rendering="auto">133.982</text><rect x="1688" y="587" width="2" height="1" fill="#000"/><text x="1691.0" y="596" style='font-family:"Liberation Sans",sans-serif;font-size:10px;letter-spacing:-0.40px;white-space:pre' fill="#000" shape-rendering="auto">1.894</text><rect x="1688" y="643" width="2" height="1" fill="#000"/><text x="1691.0" y="647" style='font-family:"Liberation Sans",sans-serif;font-size:10px;letter-spacing:-0.40px;white-space:pre' fill="#000" shape-rendering="auto">0.00</text><rect x="1688" y="754" width="2" height="1" fill="#000"/><text x="1691.0" y="752" style='font-family:"Liberation Sans",sans-serif;font-size:10px;letter-spacing:-0.40px;white-space:pre' fill="#000" shape-rendering="auto">-3.7183</text><rect x="1688" y="759" width="2" height="1" fill="#000"/><text x="1691.0" y="768" style='font-family:"Liberation Sans",sans-serif;font-size:10px;letter-spacing:-0.40px;white-space:pre' fill="#000" shape-rendering="auto">100</text><text x="1690.2" y="797" style='font-family:"Liberation Sans",sans-serif;font-size:10px;letter-spacing:-0.40px;white-space:pre' fill="#000" shape-rendering="auto">80</text><text x="1690.2" y="848" style='font-family:"Liberation Sans",sans-serif;font-size:10px;letter-spacing:-0.40px;white-space:pre' fill="#000" shape-rendering="auto">50</text><text x="1690.2" y="909" style='font-family:"Liberation Sans",sans-serif;font-size:10px;letter-spacing:-0.40px;white-space:pre' fill="#000" shape-rendering="auto">15</text><rect x="1688" y="930" width="2" height="1" fill="#000"/><text x="1690.2" y="928" style='font-family:"Liberation Sans",sans-serif;font-size:10px;letter-spacing:-0.40px;white-space:pre' fill="#000" shape-rendering="auto">0</text><rect x="1687" y="793" width="1" height="1" fill="#fff"/><rect x="1687" y="844" width="1" height="1" fill="#fff"/><rect x="1687" y="905" width="1" height="1" fill="#fff"/><rect x="-6" y="932" width="1" height="3" fill="#000"/><text x="-7.4" y="944" style='font-family:"Liberation Sans",sans-serif;font-size:10px;fill:#000;letter-spacing:-0.33px;white-space:pre' shape-rendering="auto">17 Feb 2020</text><rect x="58" y="932" width="1" height="3" fill="#000"/><text x="56.6" y="944" style='font-family:"Liberation Sans",sans-serif;font-size:10px;fill:#000;letter-spacing:-0.33px;white-space:pre' shape-rendering="auto">26 Feb 2020</text><rect x="122" y="932" width="1" height="3" fill="#000"/><text x="120.6" y="944" style='font-family:"Liberation Sans",sans-serif;font-size:10px;fill:#000;letter-spacing:-0.33px;white-space:pre' shape-rendering="auto">6 Mar 2020</text><rect x="186" y="932" width="1" height="3" fill="#000"/><text x="184.6" y="944" style='font-family:"Liberation Sans",sans-serif;font-size:10px;fill:#000;letter-spacing:-0.33px;white-space:pre' shape-rendering="auto">16 Mar 2020</text><rect x="250" y="932" width="1" height="3" fill="#000"/><text x="248.6" y="944" style='font-family:"Liberation Sans",sans-serif;font-size:10px;fill:#000;letter-spacing:-0.33px;white-space:pre' shape-rendering="auto">25 Mar 2020</text><rect x="314" y="932" width="1" height="3" fill="#000"/><text x="312.6" y="944" style='font-family:"Liberation Sans",sans-serif;font-size:10px;fill:#000;letter-spacing:-0.33px;white-space:pre' shape-rendering="auto">3 Apr 2020</text><rect x="378" y="932" width="1" height="3" fill="#000"/><text x="376.6" y="944" style='font-family:"Liberation Sans",sans-serif;font-size:10px;fill:#000;letter-spacing:-0.33px;white-space:pre' shape-rendering="auto">14 Apr 2020</text><rect x="442" y="932" width="1" height="3" fill="#000"/><text x="440.6" y="944" style='font-family:"Liberation Sans",sans-serif;font-size:10px;fill:#000;letter-spacing:-0.33px;white-space:pre' shape-rendering="auto">23 Apr 2020</text><rect x="506" y="932" width="1" height="3" fill="#000"/><text x="504.6" y="944" style='font-family:"Liberation Sans",sans-serif;font-size:10px;fill:#000;letter-spacing:-0.33px;white-space:pre' shape-rendering="auto">3 May 2020</text><rect x="570" y="932" width="1" height="3" fill="#000"/><text x="568.6" y="944" style='font-family:"Liberation Sans",sans-serif;font-size:10px;fill:#000;letter-spacing:-0.33px;white-space:pre' shape-rendering="auto">12 May 2020</text><rect x="634" y="932" width="1" height="3" fill="#000"/><text x="632.6" y="944" style='font-family:"Liberation Sans",sans-serif;font-size:10px;fill:#000;letter-spacing:-0.33px;white-space:pre' shape-rendering="auto">21 May 2020</text><rect x="698" y="932" width="1" height="3" fill="#000"/><text x="696.6" y="944" style='font-family:"Liberation Sans",sans-serif;font-size:10px;fill:#000;letter-spacing:-0.33px;white-space:pre' shape-rendering="auto">31 May 2020</text><rect x="762" y="932" width="1" height="3" fill="#000"/><text x="760.6" y="944" style='font-family:"Liberation Sans",sans-serif;font-size:10px;fill:#000;letter-spacing:-0.33px;white-space:pre' shape-rendering="auto">9 Jun 2020</text><rect x="826" y="932" width="1" height="3" fill="#000"/><text x="824.6" y="944" style='font-family:"Liberation Sans",sans-serif;font-size:10px;fill:#000;letter-spacing:-0.33px;white-space:pre' shape-rendering="auto">18 Jun 2020</text><rect x="890" y="932" width="1" height="3" fill="#000"/><text x="888.6" y="944" style='font-family:"Liberation Sans",sans-serif;font-size:10px;fill:#000;letter-spacing:-0.33px;white-space:pre' shape-rendering="auto">28 Jun 2020</text><rect x="954" y="932" width="1" height="3" fill="#000"/><text x="952.6" y="944" style='font-family:"Liberation Sans",sans-serif;font-size:10px;fill:#000;letter-spacing:-0.33px;white-space:pre' shape-rendering="auto">7 Jul 2020</text><rect x="1018" y="932" width="1" height="3" fill="#000"/><text x="1016.6" y="944" style='font-family:"Liberation Sans",sans-serif;font-size:10px;fill:#000;letter-spacing:-0.33px;white-space:pre' shape-rendering="auto">16 Jul 2020</text><rect x="1082" y="932" width="1" height="3" fill="#000"/><text x="1080.6" y="944" style='font-family:"Liberation Sans",sans-serif;font-size:10px;fill:#000;letter-spacing:-0.33px;white-space:pre' shape-rendering="auto">26 Jul 2020</text><rect x="1146" y="932" width="1" height="3" fill="#000"/><text x="1144.6" y="944" style='font-family:"Liberation Sans",sans-serif;font-size:10px;fill:#000;letter-spacing:-0.33px;white-space:pre' shape-rendering="auto">4 Aug 2020</text><rect x="1210" y="932" width="1" height="3" fill="#000"/><text x="1208.6" y="944" style='font-family:"Liberation Sans",sans-serif;font-size:10px;fill:#000;letter-spacing:-0.33px;white-space:pre' shape-rendering="auto">13 Aug 2020</text><rect x="1274" y="932" width="1" height="3" fill="#000"/><text x="1272.6" y="944" style='font-family:"Liberation Sans",sans-serif;font-size:10px;fill:#000;letter-spacing:-0.33px;white-space:pre' shape-rendering="auto">23 Aug 2020</text><rect x="1338" y="932" width="1" height="3" fill="#000"/><text x="1336.6" y="944" style='font-family:"Liberation Sans",sans-serif;font-size:10px;fill:#000;letter-spacing:-0.33px;white-space:pre' shape-rendering="auto">1 Sep 2020</text><rect x="1402" y="932" width="1" height="3" fill="#000"/><text x="1400.6" y="944" style='font-family:"Liberation Sans",sans-serif;font-size:10px;fill:#000;letter-spacing:-0.33px;white-space:pre' shape-rendering="auto">10 Sep 2020</text><text x="-2.3" y="598" style='font-family:"Liberation Sans",sans-serif;font-size:10px;fill:#000;letter-spacing:-0.30px;white-space:pre' shape-rendering="auto">MACD(12,26,9) -0.7887 -0.0023</text><text x="-2" y="770" style='font-family:"Liberation Sans",sans-serif;font-size:10px;fill:#000;letter-spacing:-0.33px;white-space:pre' shape-rendering="auto">RSI(14) 33.8883</text><text x="8.2" y="42.5" style='font-family:"Liberation Sans",sans-serif;font-size:10px;fill:#000;letter-spacing:-0.20px;white-space:pre' shape-rendering="auto">GBPJPY-,Daily</text><text x="78" y="42.5" style='font-family:"Liberation Sans",sans-serif;font-size:10px;fill:#000;letter-spacing:-0.40px;white-space:pre' shape-rendering="auto">135.831 136.420 135.405 135.876</text><path d="M0,36 L4,40 L0,40 Z" fill="#000" shape-rendering="auto"/><path d="M1443.5,31 L1453.5,31 L1448.5,36 Z" fill="#c0c0c0" shape-rendering="auto"/><rect x="1732" y="28" width="1" height="924" fill="#f4f4f4"/><rect x="1733" y="28" width="1" height="924" fill="#e2e2e2"/></svg><svg width="1734" height="30" viewBox="0 0 1734 30" style="position:absolute;left:0;top:0"><defs><linearGradient id="gbk" x1="0" y1="0" x2="1" y2="1"><stop offset="0" stop-color="#fbe27a"/><stop offset="0.5" stop-color="#e2a91f"/><stop offset="1" stop-color="#c98a12"/></linearGradient><linearGradient id="gsrv" x1="0" y1="0" x2="0" y2="1"><stop offset="0" stop-color="#2aa2ff"/><stop offset="1" stop-color="#0a78e0"/></linearGradient><linearGradient id="gcl" x1="0" y1="0" x2="0" y2="1"><stop offset="0" stop-color="#ffffff"/><stop offset="1" stop-color="#b9c6e0"/></linearGradient></defs><rect x="0" y="0" width="1734" height="26" fill="#f0f0f0"/><rect x="0" y="25" width="1734" height="1" fill="#e3e3e3"/><rect x="0" y="26" width="1734" height="1" fill="#a0a0a0"/><rect x="0" y="27" width="1734" height="1" fill="#696969"/><rect x="0" y="28" width="1734" height="2" fill="#fff"/><rect x="-3" y="7.4" width="13.4" height="13" rx="1.2" fill="#fff" stroke="#2f74c0" stroke-width="1.4"/><path d="M0,9.6h1.2" stroke="#f01010" stroke-width="1"/><path d="M2,9.6h7.6" stroke="#d4e2fb" stroke-width="1"/><path d="M0,11.5h1.2" stroke="#203a10" stroke-width="1"/><path d="M2,11.5h7.6" stroke="#d4e2fb" stroke-width="1"/><path d="M0,13.5h1.2" stroke="#203a10" stroke-width="1"/><path d="M2,13.5h7.6" stroke="#d4e2fb" stroke-width="1"/><path d="M0,15.4h1.2" stroke="#f01010" stroke-width="1"/><path d="M2,15.4h7.6" stroke="#d4e2fb" stroke-width="1"/><rect x="23.7" y="6.6" width="11.8" height="13" rx="1" fill="#fdfdfd" stroke="#b3ab95" stroke-width="1"/><path d="M26.5,8.5v5M26.5,10h1.2M25.3,12.5h1.2M32.5,8v4M32.5,9h1" stroke="#666" stroke-width="0.9" fill="none"/><path d="M35.8,19.3l4.4,3.6" stroke="#c89a10" stroke-width="3" stroke-linecap="butt"/><circle cx="31.5" cy="15.2" r="5" fill="#e6f6fb" fill-opacity="0.92" stroke="#5a8fd8" stroke-width="1.1"/><rect x="29.6" y="11.8" width="3" height="5" fill="#a9bccb" opacity="0.8"/><rect x="48.0" y="3" width="1" height="20" fill="#a0a0a0" shape-rendering="crispEdges"/><path d="M58.5,6.5 h7 l3,3 v9 h-10 z" fill="#fff" stroke="#777" stroke-width="1"/><path d="M60.5,10.5h5M60.5,13.5h5" stroke="#666" stroke-width="1"/><path d="M62.2,16.2 h4 v-4 h3.8 v4 h4 v3.8 h-4 v4 h-3.8 v-4 h-4 z" fill="#10d030" stroke="#0f8f1a" stroke-width="0.8"/><text x="76.5" y="17" style='font-family:"Liberation Sans","Noto Sans CJK SC",sans-serif;font-size:12px;fill:#000'>新订单</text><path d="M125.5,15.5 l5.5,-8.5 q5,2 9.5,6.5 l-4.5,7.5 q-5,-1 -10.5,-5.5 z" fill="url(#gbk)" stroke="#a06c10" stroke-width="1"/><path d="M126,15.8 q5,4 10,5.2 l1,-1.8" fill="none" stroke="#fff0b0" stroke-width="1"/><path d="M155.5,6.5 h7 l3,2 v8 h-10 z" fill="url(#gsrv)" stroke="#1a6fd0" stroke-width="0.8"/><rect x="158.5" y="9.5" width="6" height="6" fill="#e8f4ff" opacity="0.9"/><path d="M160,11.5h3.5" stroke="#2a7ad8" stroke-width="1.2"/><path d="M155,21.5 a3,3 0 0 1 0.5,-6 a3.8,3.8 0 0 1 7,-0.8 a3,3 0 0 1 5,2.6 a2.1,2.1 0 0 1 -0.5,4.2 z" fill="url(#gcl)" stroke="#5774b4" stroke-width="1"/><circle cx="188.5" cy="14" r="7.6" fill="#eef3fa" stroke="#a9c0e4" stroke-width="1"/><circle cx="188.5" cy="14" r="5" fill="none" stroke="#7fa3dc" stroke-width="1.2"/><circle cx="188.5" cy="14" r="2.6" fill="none" stroke="#5f8ad4" stroke-width="1"/><path d="M188.5,14 v7.8 a8,8 0 0 0 7.6,-7.8 z" fill="#7cc87c" fill-opacity="0.55"/><path d="M188.9,14 v8 M188.9,21.6 q3,-0.3 5,-2.6" stroke="#22a822" stroke-width="1.4" fill="none"/><circle cx="188.5" cy="13.5" r="1.6" fill="#2a5fc8"/><ellipse cx="216" cy="11" rx="8" ry="3.2" fill="#5a9ae0" stroke="#3b78c0" stroke-width="0.8"/><path d="M211.5,10.5 a4.5,4.2 0 0 1 9,0 z" fill="#7ab2ee" stroke="#3b78c0" stroke-width="0.8"/><path d="M209,13.5 h13 l-4.5,7.5 h-4 z" fill="#f3cd4d" stroke="#c9a227" stroke-width="0.8"/><circle cx="221" cy="18" r="4.2" fill="#e02020"/><rect x="219.2" y="16.2" width="3.6" height="3.6" fill="#fff"/><text x="230.8" y="17" style='font-family:"Liberation Sans","Noto Sans CJK SC",sans-serif;font-size:11.5px;fill:#000'>自动交易</text><rect x="284.0" y="3" width="1" height="20" fill="#a0a0a0" shape-rendering="crispEdges"/><rect x="288" y="4" width="3" height="1" fill="#b4b4b4" shape-rendering="crispEdges"/><rect x="288" y="6" width="3" height="1" fill="#b4b4b4" shape-rendering="crispEdges"/><rect x="288" y="8" width="3" height="1" fill="#b4b4b4" shape-rendering="crispEdges"/><rect x="288" y="10" width="3" height="1" fill="#b4b4b4" shape-rendering="crispEdges"/><rect x="288" y="12" width="3" height="1" fill="#b4b4b4" shape-rendering="crispEdges"/><rect x="288" y="14" width="3" height="1" fill="#b4b4b4" shape-rendering="crispEdges"/><rect x="288" y="16" width="3" height="1" fill="#b4b4b4" shape-rendering="crispEdges"/><rect x="288" y="18" width="3" height="1" fill="#b4b4b4" shape-rendering="crispEdges"/><rect x="288" y="20" width="3" height="1" fill="#b4b4b4" shape-rendering="crispEdges"/><rect x="288" y="22" width="3" height="1" fill="#b4b4b4" shape-rendering="crispEdges"/><path d="M302.4,8.5 V22 M300.0,19.5 H313.0" stroke="#555" stroke-width="1.25" fill="none"/><path d="M302.4,7.4 l-2,3 h4 z M314.6,19.5 l-3,-2 v4 z" fill="#555"/><path d="M308.5,9v8.6M308.5,10.3h2.6M308.5,16.3h-2.4" stroke="#0f8f0f" stroke-width="1.3" fill="none"/><rect x="322.0" y="2" width="25.0" height="22" fill="#f8f8f8" shape-rendering="crispEdges"/><rect x="322.0" y="2" width="25.0" height="1" fill="#a6a6a6" shape-rendering="crispEdges"/><rect x="322.0" y="2" width="1" height="22" fill="#8c8c8c" shape-rendering="crispEdges"/><rect x="346.0" y="3" width="1" height="21" fill="#ffffff" shape-rendering="crispEdges"/><rect x="323.0" y="23" width="24.0" height="1" fill="#ffffff" shape-rendering="crispEdges"/><path d="M330.4,8.5 V22 M328.0,19.5 H341.0" stroke="#555" stroke-width="1.25" fill="none"/><path d="M330.4,7.4 l-2,3 h4 z M342.6,19.5 l-3,-2 v4 z" fill="#555"/><path d="M336.5,6.2v11.4" stroke="#0a800a" stroke-width="1.2"/><rect x="334.4" y="8.4" width="4.3" height="7.3" fill="#3ee03e" stroke="#0a800a" stroke-width="1"/><path d="M358.4,8.5 V22 M356.0,19.5 H369.0" stroke="#555" stroke-width="1.25" fill="none"/><path d="M358.4,7.4 l-2,3 h4 z M370.6,19.5 l-3,-2 v4 z" fill="#555"/><path d="M357,16.8 q3.5,-2 5,-4.6 q1.3,-1.6 2.8,0 q2,2.4 4,3" stroke="#2a9a2a" stroke-width="1.4" fill="none"/><rect x="379.0" y="3" width="1" height="20" fill="#a0a0a0" shape-rendering="crispEdges"/><path d="M398.0,16l5,5" stroke="#c8961e" stroke-width="2.6" stroke-linecap="round"/><circle cx="394.0" cy="11.5" r="5.3" fill="#d6e8fa" stroke="#4f8fd8" stroke-width="1.5"/><path d="M391.5,11.5h5M394.0,9v5" stroke="#2f6fc0" stroke-width="1.5"/><path d="M426.0,16l5,5" stroke="#c8961e" stroke-width="2.6" stroke-linecap="round"/><circle cx="422.0" cy="11.5" r="5.3" fill="#d6e8fa" stroke="#4f8fd8" stroke-width="1.5"/><path d="M419.5,11.5h5" stroke="#2f6fc0" stroke-width="1.5"/><rect x="444.0" y="6.0" width="7.8" height="7.8" rx="0.8" fill="#3f9a1c"/><rect x="445.1" y="8.9" width="5.6" height="4" fill="#f4f9ff"/><path d="M446.2,10.9h3.4" stroke="#8fd070" stroke-width="1"/><rect x="452.2" y="6.0" width="7.8" height="7.8" rx="0.8" fill="#1f56d6"/><rect x="453.3" y="8.9" width="5.6" height="4" fill="#f4f9ff"/><path d="M454.4,10.9h3.4" stroke="#7aa4f0" stroke-width="1"/><rect x="444.0" y="14.2" width="7.8" height="7.8" rx="0.8" fill="#1f56d6"/><rect x="445.1" y="17.1" width="5.6" height="4" fill="#f4f9ff"/><path d="M446.2,19.1h3.4" stroke="#7aa4f0" stroke-width="1"/><rect x="452.2" y="14.2" width="7.8" height="7.8" rx="0.8" fill="#3f9a1c"/><rect x="453.3" y="17.1" width="5.6" height="4" fill="#f4f9ff"/><path d="M454.4,19.1h3.4" stroke="#8fd070" stroke-width="1"/><rect x="469.0" y="3" width="1" height="20" fill="#a0a0a0" shape-rendering="crispEdges"/><rect x="474.0" y="2" width="25.0" height="22" fill="#f8f8f8" shape-rendering="crispEdges"/><rect x="474.0" y="2" width="25.0" height="1" fill="#a6a6a6" shape-rendering="crispEdges"/><rect x="474.0" y="2" width="1" height="22" fill="#8c8c8c" shape-rendering="crispEdges"/><rect x="498.0" y="3" width="1" height="21" fill="#ffffff" shape-rendering="crispEdges"/><rect x="475.0" y="23" width="24.0" height="1" fill="#ffffff" shape-rendering="crispEdges"/><path d="M482.4,8.5 V22 M480.0,19.5 H493.0" stroke="#555" stroke-width="1.25" fill="none"/><path d="M482.4,7.4 l-2,3 h4 z M494.6,19.5 l-3,-2 v4 z" fill="#555"/><path d="M487.5,10 l4.5,3.5 l-4.5,3.5 z" fill="#2fae2f"/><rect x="502.0" y="2" width="25.0" height="22" fill="#f8f8f8" shape-rendering="crispEdges"/><rect x="502.0" y="2" width="25.0" height="1" fill="#a6a6a6" shape-rendering="crispEdges"/><rect x="502.0" y="2" width="1" height="22" fill="#8c8c8c" shape-rendering="crispEdges"/><rect x="526.0" y="3" width="1" height="21" fill="#ffffff" shape-rendering="crispEdges"/><rect x="503.0" y="23" width="24.0" height="1" fill="#ffffff" shape-rendering="crispEdges"/><path d="M510.4,8.5 V22 M508.0,19.5 H521.0" stroke="#555" stroke-width="1.25" fill="none"/><path d="M510.4,7.4 l-2,3 h4 z M522.6,19.5 l-3,-2 v4 z" fill="#555"/><path d="M516.5,8v11" stroke="#2f5fb8" stroke-width="1.2"/><path d="M522,13.5h-4M519.5,11.5l-2,2l2,2" stroke="#d03a1a" stroke-width="1.1" fill="none"/><rect x="531.0" y="3" width="1" height="20" fill="#a0a0a0" shape-rendering="crispEdges"/><path d="M541.5,6.5 h6 l3,3 v9 h-9 z" fill="#fff" stroke="#888"/><text x="543" y="16" style='font-family:"Liberation Sans",sans-serif;font-size:9px;font-style:italic;fill:#555'>f</text><path d="M545.5,15.2 h4 v-4 h3.8 v4 h4 v3.8 h-4 v4 h-3.8 v-4 h-4 z" fill="#10d030" stroke="#0f8f1a" stroke-width="0.8"/><path d="M562.5,13.0 h6 l-3,3 z" fill="#000"/><circle cx="587" cy="14" r="8" fill="#2f74d0" stroke="#1d55a8" stroke-width="1"/><circle cx="587" cy="14" r="5.6" fill="#f4f8ff"/><path d="M587,10v4.2h3" stroke="#444" stroke-width="1.1" fill="none"/><path d="M601.5,13.0 h6 l-3,3 z" fill="#000"/><rect x="618.5" y="7.5" width="15" height="13" fill="#fff" stroke="#3a7bc8" stroke-width="1.2"/><rect x="618.5" y="7.5" width="15" height="2.5" fill="#3a7bc8"/><path d="M620.5,14 l3,-1 l3,0.5 l3,-1.5 l3,0" stroke="#c03a1a" stroke-width="1.1" fill="none"/><path d="M620.5,18.5 l3,-1 l3,1 l3,-1.6 l3,1" stroke="#1a9a1a" stroke-width="1.1" fill="none"/><path d="M640.5,13.0 h6 l-3,3 z" fill="#000"/><rect x="652.0" y="3" width="1" height="20" fill="#a0a0a0" shape-rendering="crispEdges"/><rect x="656" y="4" width="3" height="1" fill="#b4b4b4" shape-rendering="crispEdges"/><rect x="656" y="6" width="3" height="1" fill="#b4b4b4" shape-rendering="crispEdges"/><rect x="656" y="8" width="3" height="1" fill="#b4b4b4" shape-rendering="crispEdges"/><rect x="656" y="10" width="3" height="1" fill="#b4b4b4" shape-rendering="crispEdges"/><rect x="656" y="12" width="3" height="1" fill="#b4b4b4" shape-rendering="crispEdges"/><rect x="656" y="14" width="3" height="1" fill="#b4b4b4" shape-rendering="crispEdges"/><rect x="656" y="16" width="3" height="1" fill="#b4b4b4" shape-rendering="crispEdges"/><rect x="656" y="18" width="3" height="1" fill="#b4b4b4" shape-rendering="crispEdges"/><rect x="656" y="20" width="3" height="1" fill="#b4b4b4" shape-rendering="crispEdges"/><rect x="656" y="22" width="3" height="1" fill="#b4b4b4" shape-rendering="crispEdges"/><rect x="662.0" y="2" width="25.0" height="22" fill="#f8f8f8" shape-rendering="crispEdges"/><rect x="662.0" y="2" width="25.0" height="1" fill="#a6a6a6" shape-rendering="crispEdges"/><rect x="662.0" y="2" width="1" height="22" fill="#8c8c8c" shape-rendering="crispEdges"/><rect x="686.0" y="3" width="1" height="21" fill="#ffffff" shape-rendering="crispEdges"/><rect x="663.0" y="23" width="24.0" height="1" fill="#ffffff" shape-rendering="crispEdges"/><path d="M670,7 v12 l2.8,-2.6 l2,4.4 l1.8,-0.8 l-2,-4.3 h3.8 z" fill="#333"/><path d="M695,14.5h14.5M702.3,7v15" stroke="#444" stroke-width="1"/><rect x="719.0" y="3" width="1" height="20" fill="#a0a0a0" shape-rendering="crispEdges"/><path d="M736.5,8v13" stroke="#444" stroke-width="1.1"/><path d="M759,14.5h12" stroke="#444" stroke-width="1.1"/><path d="M787,21l12,-12" stroke="#444" stroke-width="1.1"/><path d="M813.5,19l12,-10M813.5,23l12,-10" stroke="#444" stroke-width="1"/><path d="M816,15v7M819,12v8M822,10v8M825,7v8" stroke="#444" stroke-width="0.9"/><text x="825" y="23" style='font-family:"Liberation Sans",sans-serif;font-size:7px;font-weight:bold;fill:#333'>E</text><path d="M842,7.5h13" stroke="#444" stroke-width="1" stroke-dasharray="1,1"/><path d="M842,10.5h13" stroke="#444" stroke-width="1" stroke-dasharray="1,1"/><path d="M842,13.5h13" stroke="#444" stroke-width="1" stroke-dasharray="1,1"/><path d="M842,17.5h13" stroke="#444" stroke-width="1" stroke-dasharray="1,1"/><text x="852" y="23.5" style='font-family:"Liberation Sans",sans-serif;font-size:7px;font-weight:bold;fill:#333'>F</text><text x="872.5" y="19.5" style='font-family:"Liberation Sans",sans-serif;font-size:13px;font-weight:bold;fill:#666'>A</text><rect x="899.5" y="8.5" width="11" height="12" fill="none" stroke="#555" stroke-width="1" stroke-dasharray="1,1"/><text x="901.2" y="19" style='font-family:"Liberation Sans",sans-serif;font-size:11px;font-weight:bold;fill:#555'>T</text><path d="M929.5,8 l3,3.5 h-6 z M929.5,15 l3,-3 l-6,0 z" fill="#444"/><path d="M931,12l6,5" stroke="#444" stroke-width="1"/><path d="M937.5,14 l3,3 l-3,3 l-3,-3 z" fill="#444"/><path d="M946.5,13.0 h6 l-3,3 z" fill="#000"/><rect x="959.0" y="3" width="1" height="20" fill="#a0a0a0" shape-rendering="crispEdges"/><rect x="962" y="4" width="3" height="1" fill="#b4b4b4" shape-rendering="crispEdges"/><rect x="962" y="6" width="3" height="1" fill="#b4b4b4" shape-rendering="crispEdges"/><rect x="962" y="8" width="3" height="1" fill="#b4b4b4" shape-rendering="crispEdges"/><rect x="962" y="10" width="3" height="1" fill="#b4b4b4" shape-rendering="crispEdges"/><rect x="962" y="12" width="3" height="1" fill="#b4b4b4" shape-rendering="crispEdges"/><rect x="962" y="14" width="3" height="1" fill="#b4b4b4" shape-rendering="crispEdges"/><rect x="962" y="16" width="3" height="1" fill="#b4b4b4" shape-rendering="crispEdges"/><rect x="962" y="18" width="3" height="1" fill="#b4b4b4" shape-rendering="crispEdges"/><rect x="962" y="20" width="3" height="1" fill="#b4b4b4" shape-rendering="crispEdges"/><rect x="962" y="22" width="3" height="1" fill="#b4b4b4" shape-rendering="crispEdges"/><text x="973.5" y="18" style='font-family:"Liberation Sans",sans-serif;font-size:10px;fill:#444;letter-spacing:-0.3px'>M1</text><text x="1001.5" y="18" style='font-family:"Liberation Sans",sans-serif;font-size:10px;fill:#444;letter-spacing:-0.3px'>M5</text><text x="1027.5" y="18" style='font-family:"Liberation Sans",sans-serif;font-size:10px;fill:#444;letter-spacing:-0.3px'>M15</text><text x="1055.5" y="18" style='font-family:"Liberation Sans",sans-serif;font-size:10px;fill:#444;letter-spacing:-0.3px'>M30</text><text x="1086.5" y="18" style='font-family:"Liberation Sans",sans-serif;font-size:10px;fill:#444;letter-spacing:-0.3px'>H1</text><text x="1113.5" y="18" style='font-family:"Liberation Sans",sans-serif;font-size:10px;fill:#444;letter-spacing:-0.3px'>H4</text><rect x="1136.0" y="2" width="25.0" height="22" fill="#f8f8f8" shape-rendering="crispEdges"/><rect x="1136.0" y="2" width="25.0" height="1" fill="#a6a6a6" shape-rendering="crispEdges"/><rect x="1136.0" y="2" width="1" height="22" fill="#8c8c8c" shape-rendering="crispEdges"/><rect x="1160.0" y="3" width="1" height="21" fill="#ffffff" shape-rendering="crispEdges"/><rect x="1137.0" y="23" width="24.0" height="1" fill="#ffffff" shape-rendering="crispEdges"/><text x="1143.0" y="18" style='font-family:"Liberation Sans",sans-serif;font-size:10px;fill:#444;letter-spacing:-0.3px'>D1</text><text x="1169.5" y="18" style='font-family:"Liberation Sans",sans-serif;font-size:10px;fill:#444;letter-spacing:-0.3px'>W1</text><text x="1196.5" y="18" style='font-family:"Liberation Sans",sans-serif;font-size:10px;fill:#444;letter-spacing:-0.3px'>MN</text><rect x="1219.0" y="3" width="1" height="20" fill="#a0a0a0" shape-rendering="crispEdges"/><circle cx="1689.6" cy="11.5" r="3.7" fill="#f4f6ff" stroke="#2460d6" stroke-width="1.4"/><path d="M1686.6,14.6l-4.4,4.2" stroke="#2460d6" stroke-width="2.4" stroke-linecap="round"/><path d="M1716.2,13.5 a6.4,4.7 0 1 1 9.6,2.3 l0.6,2.6 l-2.6,-1.7 a6.4,4.7 0 0 1 -7.6,-3.2 z" fill="#f7f7fb" stroke="#8a8a8a" stroke-width="0.9"/><path d="M1711.3,18.0 a5,3.5 0 1 1 3.2,0.3 l-3.6,2.8 z" fill="#f7f7fb" stroke="#8a8a8a" stroke-width="0.9"/><rect x="0" y="0" width="1734" height="1" fill="#ffffff"/></svg>
<div class="tp">
 <div class="btn sell"><span>SELL</span><i></i></div>
 <div class="mid"><div class="spin"><div class="sb l"><b class="dn"></b></div><div class="vol">1.00</div><div class="sb r"><b class="upa"></b></div></div></div>
 <div class="btn buy"><span>BUY</span><i></i></div>
 <div class="pr pl"><span class="s1">135</span><span class="big">87</span><span class="sup">6</span></div>
 <div class="pr prr"><span class="s1">135</span><span class="big">92</span><span class="sup">3</span></div>
</div>
</body></html>
